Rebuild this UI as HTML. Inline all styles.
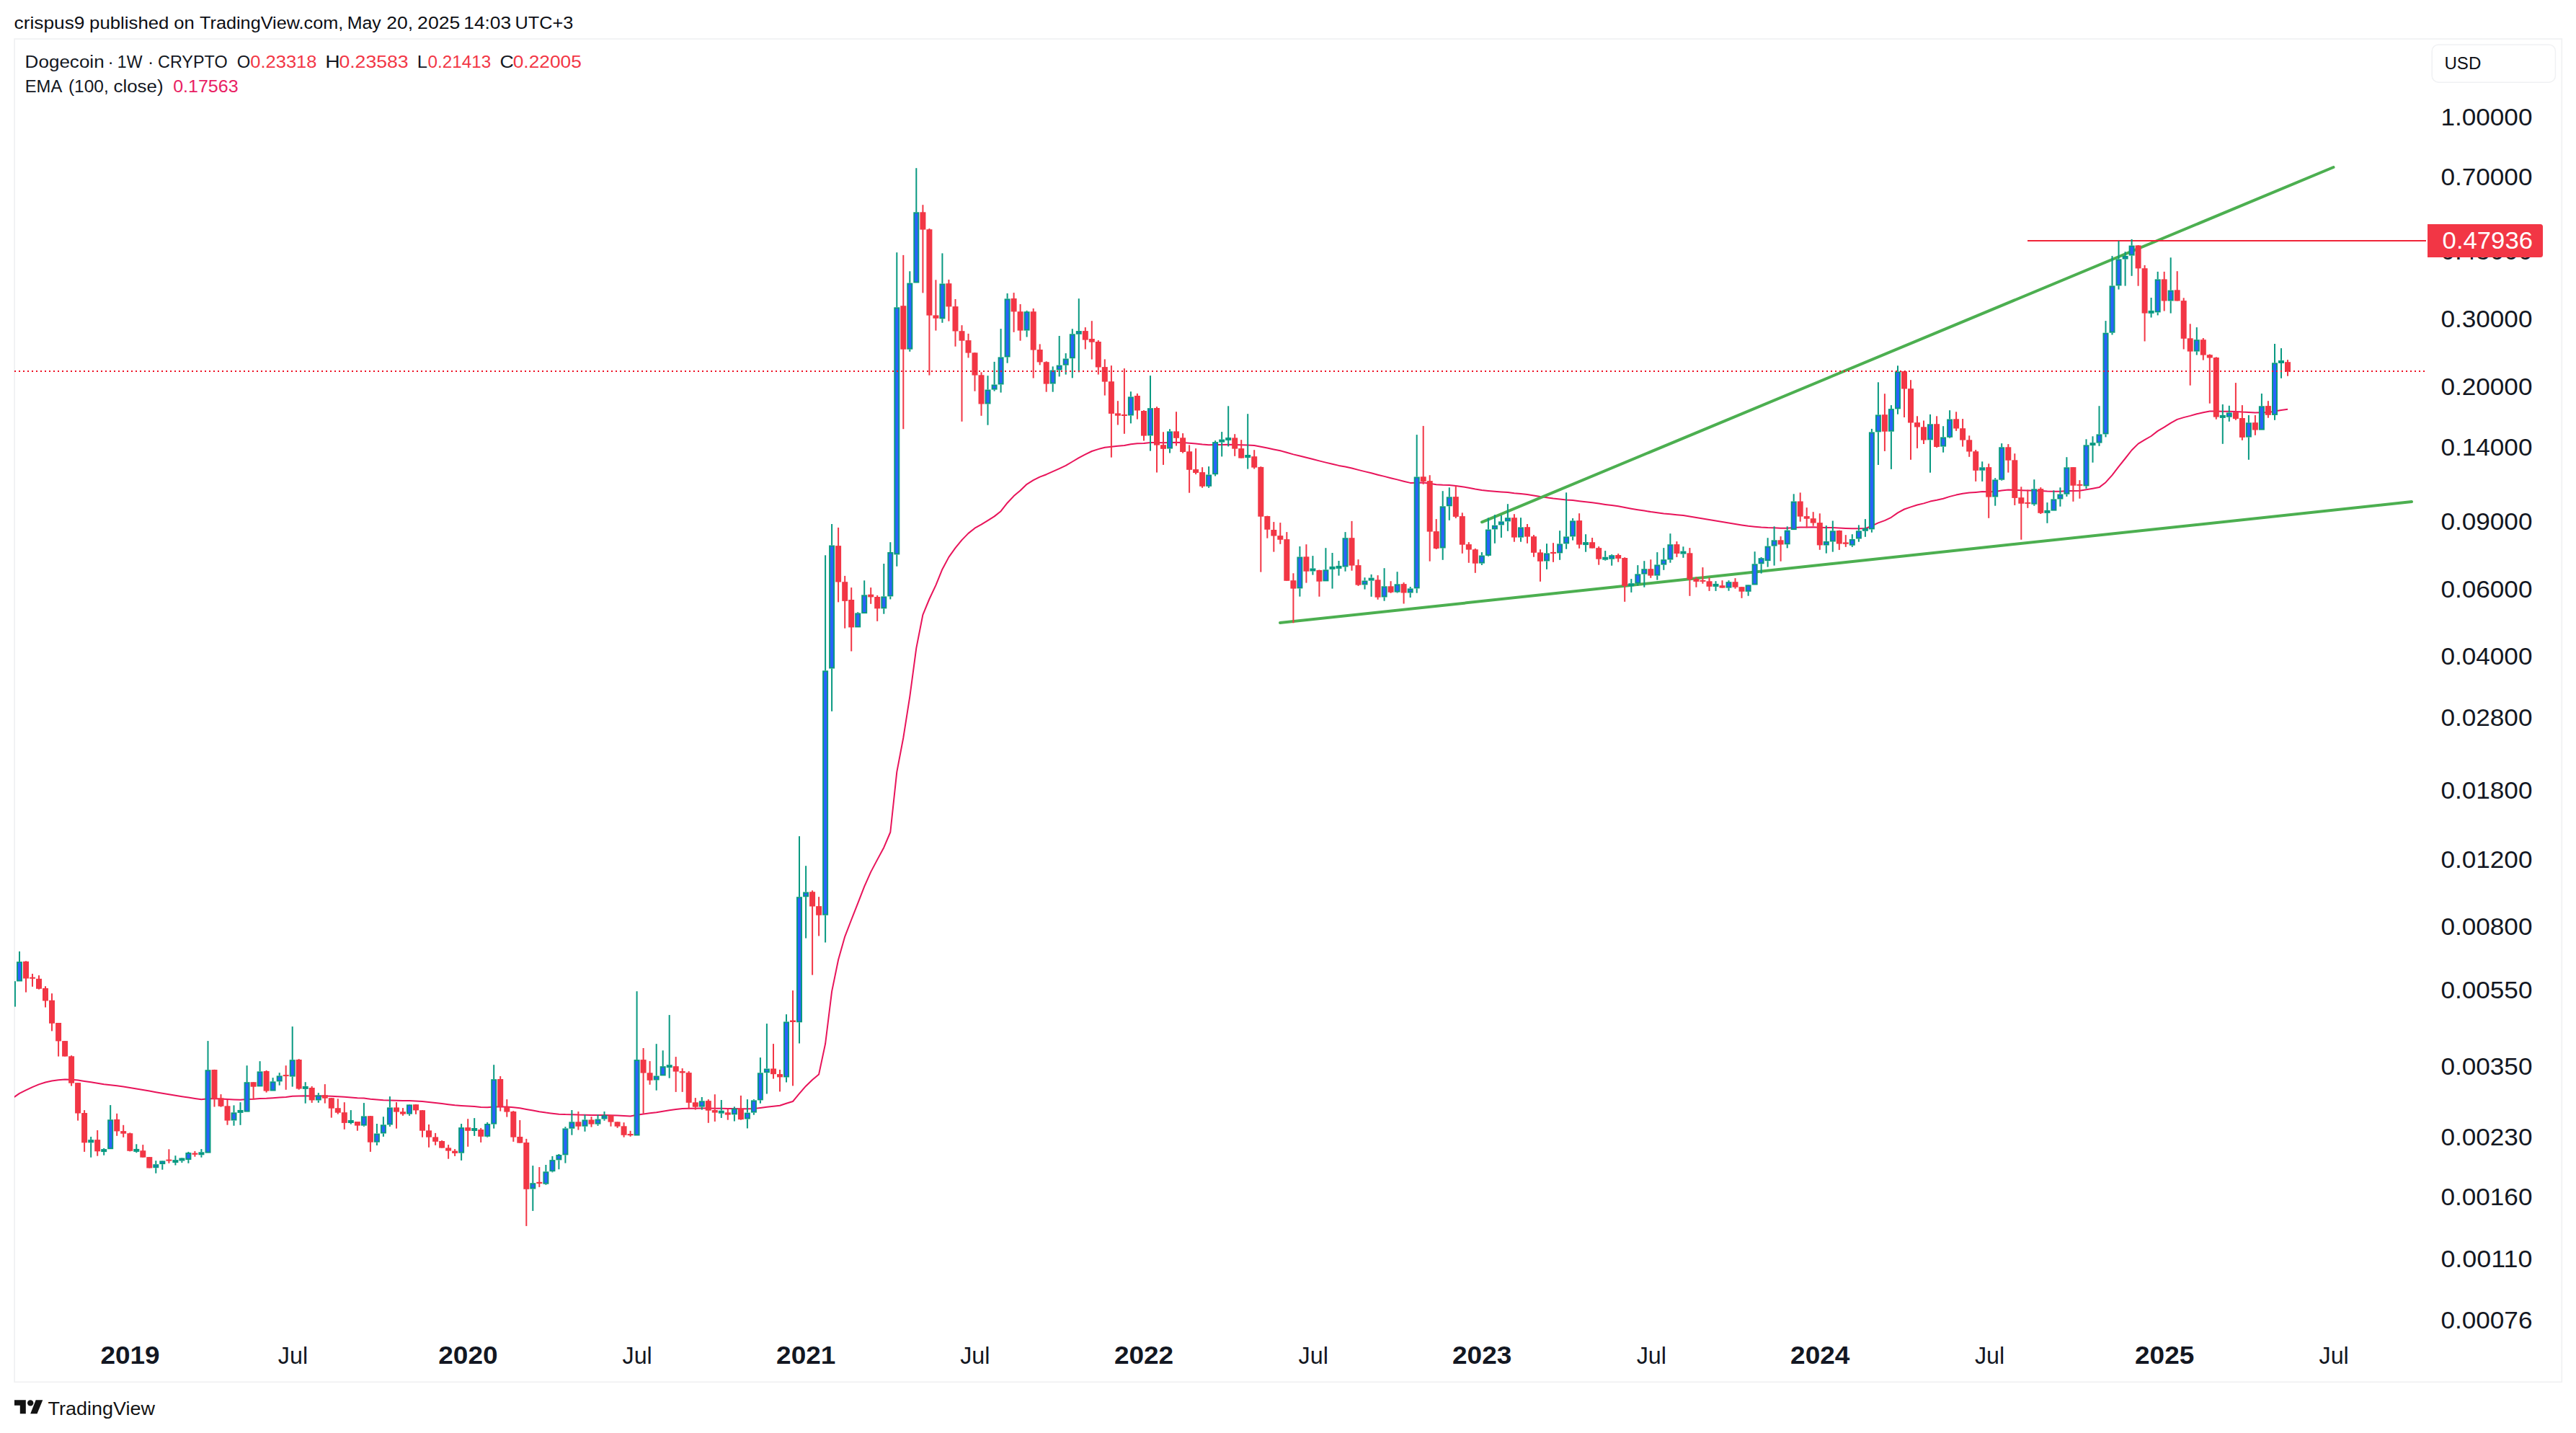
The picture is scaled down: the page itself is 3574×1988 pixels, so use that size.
<!DOCTYPE html>
<html><head><meta charset="utf-8"><title>Dogecoin 1W chart</title>
<style>html,body{margin:0;padding:0;background:#fff;width:3574px;height:1988px;font-family:"Liberation Sans",sans-serif}</style>
</head><body>
<svg width="3574" height="1988" viewBox="0 0 3574 1988" style="position:absolute;left:0;top:0;display:block" font-family="Liberation Sans, sans-serif">
<rect width="3574" height="1988" fill="#fff"/>
<rect x="20.1" y="54" width="3534.2" height="1863.3" fill="none" stroke="#f0f1f2" stroke-width="1.7"/>
<defs><clipPath id="cp"><rect x="20" y="55" width="3340" height="1861"/></clipPath></defs>
<g clip-path="url(#cp)">
<path d="M17.9,1523.3 L27.0,1516.9 L36.0,1512.4 L45.0,1508.1 L54.0,1504.4 L63.0,1501.5 L72.0,1499.5 L81.1,1498.3 L90.1,1497.6 L99.1,1497.7 L108.1,1498.5 L117.1,1499.9 L126.2,1501.3 L135.2,1502.8 L144.2,1504.3 L153.2,1505.2 L162.2,1506.3 L171.2,1507.5 L180.3,1508.9 L189.3,1510.4 L198.3,1511.9 L207.3,1513.6 L216.3,1515.3 L225.3,1516.8 L234.4,1518.3 L243.4,1519.8 L252.4,1521.3 L261.4,1522.6 L270.4,1523.9 L279.4,1525.2 L288.5,1524.3 L297.5,1524.3 L306.5,1524.5 L315.5,1525.0 L324.5,1525.4 L333.5,1525.7 L342.6,1525.1 L351.6,1524.8 L360.6,1523.9 L369.6,1523.7 L378.6,1523.2 L387.7,1522.6 L396.7,1521.9 L405.7,1520.8 L414.7,1520.6 L423.7,1520.3 L432.7,1520.4 L441.8,1520.4 L450.8,1520.4 L459.8,1520.8 L468.8,1521.2 L477.8,1521.8 L486.8,1522.5 L495.9,1523.2 L504.9,1523.6 L513.9,1524.7 L522.9,1525.5 L531.9,1526.2 L540.9,1526.4 L550.0,1526.7 L559.0,1527.0 L568.0,1527.1 L577.0,1527.4 L586.0,1528.1 L595.0,1529.0 L604.1,1529.9 L613.1,1531.0 L622.1,1532.2 L631.1,1533.3 L640.1,1533.9 L649.2,1534.5 L658.2,1535.1 L667.2,1535.9 L676.2,1536.3 L685.2,1535.4 L694.2,1535.4 L703.3,1535.6 L712.3,1536.3 L721.3,1537.2 L730.3,1539.0 L739.3,1540.6 L748.3,1542.2 L757.4,1543.6 L766.4,1544.7 L775.4,1545.7 L784.4,1546.1 L793.4,1546.3 L802.4,1546.6 L811.5,1546.7 L820.5,1547.0 L829.5,1547.1 L838.5,1547.1 L847.5,1547.2 L856.6,1547.5 L865.6,1548.0 L874.6,1548.5 L883.6,1546.7 L892.6,1545.4 L901.6,1544.3 L910.7,1543.2 L919.7,1541.7 L928.7,1540.3 L937.7,1539.1 L946.7,1537.9 L955.7,1537.8 L964.8,1537.7 L973.8,1537.5 L982.8,1537.6 L991.8,1537.7 L1000.8,1537.7 L1009.8,1537.9 L1018.9,1537.9 L1027.9,1538.2 L1036.9,1538.3 L1045.9,1538.0 L1054.9,1536.9 L1063.9,1535.7 L1073.0,1534.7 L1082.0,1533.8 L1091.0,1530.8 L1100.0,1528.0 L1109.0,1517.2 L1118.1,1506.7 L1127.1,1498.0 L1136.1,1490.4 L1145.1,1448.0 L1154.1,1375.4 L1163.1,1331.5 L1172.2,1299.3 L1181.2,1276.0 L1190.2,1253.1 L1199.2,1229.9 L1208.2,1209.6 L1217.2,1192.6 L1226.3,1175.7 L1235.3,1154.5 L1244.3,1070.9 L1253.3,1023.5 L1262.3,966.4 L1271.3,899.1 L1280.4,852.8 L1289.4,831.0 L1298.4,811.9 L1307.4,789.7 L1316.4,772.9 L1325.5,760.1 L1334.5,749.1 L1343.5,739.9 L1352.5,732.7 L1361.5,727.7 L1370.5,722.1 L1379.6,716.4 L1388.6,709.2 L1397.6,697.7 L1406.6,688.1 L1415.6,680.5 L1424.6,671.8 L1433.7,666.2 L1442.7,661.6 L1451.7,658.2 L1460.7,654.2 L1469.7,650.1 L1478.7,645.9 L1487.8,640.5 L1496.8,635.1 L1505.8,630.4 L1514.8,626.0 L1523.8,623.1 L1532.8,620.8 L1541.9,619.7 L1550.9,618.8 L1559.9,617.9 L1568.9,616.3 L1577.9,615.3 L1587.0,615.1 L1596.0,614.0 L1605.0,614.1 L1614.0,614.2 L1623.0,613.9 L1632.0,613.7 L1641.1,614.0 L1650.1,614.7 L1659.1,615.4 L1668.1,616.5 L1677.1,617.2 L1686.1,617.1 L1695.2,617.0 L1704.2,616.8 L1713.2,616.9 L1722.2,617.2 L1731.2,617.5 L1740.2,618.1 L1749.3,619.7 L1758.3,621.5 L1767.3,623.4 L1776.3,625.3 L1785.3,627.8 L1794.4,630.4 L1803.4,632.5 L1812.4,634.8 L1821.4,637.0 L1830.4,639.4 L1839.4,641.6 L1848.5,643.8 L1857.5,645.9 L1866.5,647.5 L1875.5,649.5 L1884.5,651.9 L1893.5,654.1 L1902.6,656.3 L1911.6,658.7 L1920.6,660.9 L1929.6,663.2 L1938.6,665.4 L1947.6,667.7 L1956.7,669.9 L1965.7,669.7 L1974.7,669.6 L1983.7,670.8 L1992.7,672.3 L2001.7,672.8 L2010.8,673.1 L2019.8,673.9 L2028.8,675.3 L2037.8,676.7 L2046.8,678.4 L2055.9,679.9 L2064.9,680.9 L2073.9,681.7 L2082.9,682.5 L2091.9,683.1 L2100.9,684.2 L2110.0,685.0 L2119.0,686.1 L2128.0,687.4 L2137.0,688.9 L2146.0,690.2 L2155.0,691.6 L2164.1,692.6 L2173.1,693.6 L2182.1,694.1 L2191.1,695.2 L2200.1,696.2 L2209.1,697.3 L2218.2,698.6 L2227.2,699.9 L2236.2,701.1 L2245.2,702.3 L2254.2,704.0 L2263.3,705.7 L2272.3,707.2 L2281.3,708.6 L2290.3,710.1 L2299.3,711.3 L2308.3,712.4 L2317.4,713.2 L2326.4,714.2 L2335.4,715.1 L2344.4,716.5 L2353.4,718.0 L2362.4,719.5 L2371.5,721.0 L2380.5,722.5 L2389.5,724.0 L2398.5,725.4 L2407.5,726.9 L2416.5,728.4 L2425.6,729.8 L2434.6,730.7 L2443.6,731.5 L2452.6,732.0 L2461.6,732.3 L2470.6,732.7 L2479.7,732.8 L2488.7,731.9 L2497.7,731.6 L2506.7,731.4 L2515.7,731.2 L2524.8,731.7 L2533.8,732.1 L2542.8,732.1 L2551.8,732.6 L2560.8,733.0 L2569.8,733.3 L2578.9,733.3 L2587.9,733.3 L2596.9,729.7 L2605.9,725.4 L2614.9,722.1 L2623.9,717.8 L2633.0,711.4 L2642.0,706.5 L2651.0,703.4 L2660.0,700.5 L2669.0,698.4 L2678.0,695.6 L2687.1,693.8 L2696.1,691.7 L2705.1,688.9 L2714.1,686.6 L2723.1,684.8 L2732.2,683.5 L2741.2,682.9 L2750.2,682.1 L2759.2,682.3 L2768.2,681.9 L2777.2,680.5 L2786.3,679.6 L2795.3,679.8 L2804.3,680.2 L2813.3,680.5 L2822.3,680.4 L2831.3,681.0 L2840.4,681.5 L2849.4,681.7 L2858.4,681.8 L2867.4,681.1 L2876.4,680.9 L2885.4,680.8 L2894.5,679.3 L2903.5,677.8 L2912.5,676.1 L2921.5,669.2 L2930.5,659.1 L2939.5,647.3 L2948.6,636.0 L2957.6,624.5 L2966.6,615.6 L2975.6,610.2 L2984.6,605.0 L2993.7,597.9 L3002.7,592.6 L3011.7,586.8 L3020.7,581.9 L3029.7,579.1 L3038.7,576.9 L3047.8,574.2 L3056.8,572.3 L3065.8,570.5 L3074.8,570.6 L3083.8,570.8 L3092.8,570.8 L3101.9,571.0 L3110.9,571.6 L3119.9,571.9 L3128.9,572.4 L3137.9,572.2 L3146.9,572.2 L3156.0,570.6 L3165.0,569.0 L3174.0,567.8" fill="none" stroke="#e8145a" stroke-width="2" stroke-linejoin="round"/>
</g>
<line x1="1776" y1="864" x2="3346" y2="696" stroke="#4caf50" stroke-width="4" stroke-linecap="round"/>
<line x1="2056" y1="724.3" x2="3237.5" y2="232" stroke="#4caf50" stroke-width="4" stroke-linecap="round"/>
<line x1="2813" y1="334" x2="3366" y2="334" stroke="#f02438" stroke-width="2"/>
<g clip-path="url(#cp)">
<rect x="16.9" y="1361.2" width="2" height="0.0" fill="#089981"/>
<rect x="16.9" y="1396.6" width="2" height="0.0" fill="#089981"/>
<rect x="13.9" y="1361.2" width="8" height="35.4" fill="#089981"/>
<rect x="15.9" y="1363.2" width="4" height="31.4" fill="#2962ff"/>
<rect x="26.0" y="1319.9" width="2" height="14.2" fill="#089981"/>
<rect x="26.0" y="1361.5" width="2" height="0.0" fill="#089981"/>
<rect x="23.0" y="1334.1" width="8" height="27.4" fill="#089981"/>
<rect x="25.0" y="1336.1" width="4" height="23.4" fill="#2962ff"/>
<rect x="35.0" y="1333.3" width="2" height="43.3" fill="#f23645"/>
<rect x="32.0" y="1333.8" width="8" height="23.7" fill="#f23645"/>
<rect x="44.0" y="1350.9" width="2" height="17.9" fill="#f23645"/>
<rect x="41.0" y="1355.7" width="8" height="2.0" fill="#f23645"/>
<rect x="53.0" y="1353.1" width="2" height="19.5" fill="#f23645"/>
<rect x="50.0" y="1357.8" width="8" height="14.0" fill="#f23645"/>
<rect x="62.0" y="1368.2" width="2" height="29.3" fill="#f23645"/>
<rect x="59.0" y="1370.9" width="8" height="17.6" fill="#f23645"/>
<rect x="71.0" y="1378.2" width="2" height="52.2" fill="#f23645"/>
<rect x="68.0" y="1387.7" width="8" height="32.1" fill="#f23645"/>
<rect x="80.1" y="1419.0" width="2" height="46.6" fill="#f23645"/>
<rect x="77.1" y="1419.0" width="8" height="25.4" fill="#f23645"/>
<rect x="89.1" y="1444.1" width="2" height="21.5" fill="#f23645"/>
<rect x="86.1" y="1444.1" width="8" height="21.5" fill="#f23645"/>
<rect x="98.1" y="1464.2" width="2" height="42.4" fill="#f23645"/>
<rect x="95.1" y="1465.3" width="8" height="37.4" fill="#f23645"/>
<rect x="107.1" y="1502.1" width="2" height="52.5" fill="#f23645"/>
<rect x="104.1" y="1502.1" width="8" height="42.4" fill="#f23645"/>
<rect x="116.1" y="1540.1" width="2" height="57.8" fill="#f23645"/>
<rect x="113.1" y="1544.0" width="8" height="41.3" fill="#f23645"/>
<rect x="125.2" y="1577.0" width="2" height="4.2" fill="#089981"/>
<rect x="125.2" y="1585.3" width="2" height="20.4" fill="#089981"/>
<rect x="122.2" y="1581.1" width="8" height="4.2" fill="#089981"/>
<rect x="124.2" y="1583.1" width="4" height="0.2" fill="#2962ff"/>
<rect x="134.2" y="1568.0" width="2" height="35.7" fill="#f23645"/>
<rect x="131.2" y="1581.1" width="8" height="16.2" fill="#f23645"/>
<rect x="143.2" y="1592.9" width="2" height="1.2" fill="#089981"/>
<rect x="143.2" y="1598.1" width="2" height="4.6" fill="#089981"/>
<rect x="140.2" y="1594.1" width="8" height="4.0" fill="#089981"/>
<rect x="152.2" y="1533.1" width="2" height="20.1" fill="#089981"/>
<rect x="152.2" y="1594.3" width="2" height="0.0" fill="#089981"/>
<rect x="149.2" y="1553.2" width="8" height="41.0" fill="#089981"/>
<rect x="151.2" y="1555.2" width="4" height="37.0" fill="#2962ff"/>
<rect x="161.2" y="1544.8" width="2" height="31.0" fill="#f23645"/>
<rect x="158.2" y="1552.9" width="8" height="16.5" fill="#f23645"/>
<rect x="170.2" y="1560.8" width="2" height="17.0" fill="#f23645"/>
<rect x="167.2" y="1569.1" width="8" height="3.6" fill="#f23645"/>
<rect x="179.3" y="1571.4" width="2" height="26.0" fill="#f23645"/>
<rect x="176.3" y="1572.2" width="8" height="24.6" fill="#f23645"/>
<rect x="188.3" y="1587.3" width="2" height="6.7" fill="#089981"/>
<rect x="188.3" y="1597.9" width="2" height="1.3" fill="#089981"/>
<rect x="185.3" y="1593.9" width="8" height="4.0" fill="#089981"/>
<rect x="197.3" y="1588.1" width="2" height="17.6" fill="#f23645"/>
<rect x="194.3" y="1596.2" width="8" height="9.5" fill="#f23645"/>
<rect x="206.3" y="1605.1" width="2" height="15.4" fill="#f23645"/>
<rect x="203.3" y="1605.1" width="8" height="15.4" fill="#f23645"/>
<rect x="215.3" y="1610.2" width="2" height="5.0" fill="#089981"/>
<rect x="215.3" y="1620.2" width="2" height="7.5" fill="#089981"/>
<rect x="212.3" y="1615.2" width="8" height="5.0" fill="#089981"/>
<rect x="214.3" y="1617.2" width="4" height="1.0" fill="#2962ff"/>
<rect x="224.3" y="1610.2" width="2" height="0.3" fill="#089981"/>
<rect x="224.3" y="1615.2" width="2" height="7.5" fill="#089981"/>
<rect x="221.3" y="1610.4" width="8" height="4.7" fill="#089981"/>
<rect x="223.3" y="1612.4" width="4" height="0.7" fill="#2962ff"/>
<rect x="233.4" y="1594.3" width="2" height="19.5" fill="#f23645"/>
<rect x="230.4" y="1608.6" width="8" height="2.0" fill="#f23645"/>
<rect x="242.4" y="1603.2" width="2" height="6.0" fill="#089981"/>
<rect x="242.4" y="1613.1" width="2" height="3.4" fill="#089981"/>
<rect x="239.4" y="1609.1" width="8" height="4.0" fill="#089981"/>
<rect x="251.4" y="1606.0" width="2" height="0.5" fill="#089981"/>
<rect x="251.4" y="1610.5" width="2" height="2.5" fill="#089981"/>
<rect x="248.4" y="1606.5" width="8" height="4.0" fill="#089981"/>
<rect x="260.4" y="1597.9" width="2" height="1.1" fill="#089981"/>
<rect x="260.4" y="1609.1" width="2" height="4.7" fill="#089981"/>
<rect x="257.4" y="1599.0" width="8" height="10.0" fill="#089981"/>
<rect x="259.4" y="1601.0" width="4" height="6.0" fill="#2962ff"/>
<rect x="269.4" y="1596.9" width="2" height="7.8" fill="#f23645"/>
<rect x="266.4" y="1599.6" width="8" height="2.2" fill="#f23645"/>
<rect x="278.4" y="1594.1" width="2" height="4.2" fill="#089981"/>
<rect x="278.4" y="1602.3" width="2" height="3.4" fill="#089981"/>
<rect x="275.4" y="1598.3" width="8" height="4.0" fill="#089981"/>
<rect x="287.5" y="1444.1" width="2" height="40.1" fill="#089981"/>
<rect x="287.5" y="1599.6" width="2" height="0.0" fill="#089981"/>
<rect x="284.5" y="1484.2" width="8" height="115.4" fill="#089981"/>
<rect x="286.5" y="1486.2" width="4" height="111.4" fill="#2962ff"/>
<rect x="296.5" y="1483.8" width="2" height="51.7" fill="#f23645"/>
<rect x="293.5" y="1484.0" width="8" height="40.3" fill="#f23645"/>
<rect x="305.5" y="1518.1" width="2" height="17.6" fill="#f23645"/>
<rect x="302.5" y="1523.4" width="8" height="11.4" fill="#f23645"/>
<rect x="314.5" y="1525.7" width="2" height="35.0" fill="#f23645"/>
<rect x="311.5" y="1534.3" width="8" height="20.3" fill="#f23645"/>
<rect x="323.5" y="1533.4" width="2" height="10.0" fill="#089981"/>
<rect x="323.5" y="1554.6" width="2" height="7.1" fill="#089981"/>
<rect x="320.5" y="1543.3" width="8" height="11.2" fill="#089981"/>
<rect x="322.5" y="1545.3" width="4" height="7.2" fill="#2962ff"/>
<rect x="332.5" y="1529.2" width="2" height="10.7" fill="#089981"/>
<rect x="332.5" y="1543.9" width="2" height="16.9" fill="#089981"/>
<rect x="329.5" y="1539.9" width="8" height="4.0" fill="#089981"/>
<rect x="341.6" y="1478.2" width="2" height="23.0" fill="#089981"/>
<rect x="341.6" y="1542.6" width="2" height="0.0" fill="#089981"/>
<rect x="338.6" y="1501.2" width="8" height="41.4" fill="#089981"/>
<rect x="340.6" y="1503.2" width="4" height="37.4" fill="#2962ff"/>
<rect x="350.6" y="1501.2" width="2" height="24.3" fill="#f23645"/>
<rect x="347.6" y="1501.2" width="8" height="6.5" fill="#f23645"/>
<rect x="359.6" y="1472.2" width="2" height="14.2" fill="#089981"/>
<rect x="359.6" y="1507.4" width="2" height="0.0" fill="#089981"/>
<rect x="356.6" y="1486.4" width="8" height="21.0" fill="#089981"/>
<rect x="358.6" y="1488.4" width="4" height="17.0" fill="#2962ff"/>
<rect x="368.6" y="1484.9" width="2" height="30.7" fill="#f23645"/>
<rect x="365.6" y="1486.0" width="8" height="27.6" fill="#f23645"/>
<rect x="377.6" y="1495.1" width="2" height="5.3" fill="#089981"/>
<rect x="377.6" y="1513.6" width="2" height="0.0" fill="#089981"/>
<rect x="374.6" y="1500.3" width="8" height="13.2" fill="#089981"/>
<rect x="376.6" y="1502.3" width="4" height="9.2" fill="#2962ff"/>
<rect x="386.7" y="1488.2" width="2" height="4.2" fill="#089981"/>
<rect x="386.7" y="1500.3" width="2" height="5.4" fill="#089981"/>
<rect x="383.7" y="1492.4" width="8" height="8.0" fill="#089981"/>
<rect x="385.7" y="1494.4" width="4" height="4.0" fill="#2962ff"/>
<rect x="395.7" y="1478.2" width="2" height="33.6" fill="#f23645"/>
<rect x="392.7" y="1491.1" width="8" height="2.0" fill="#f23645"/>
<rect x="404.7" y="1424.1" width="2" height="46.1" fill="#089981"/>
<rect x="404.7" y="1493.6" width="2" height="14.0" fill="#089981"/>
<rect x="401.7" y="1470.2" width="8" height="23.4" fill="#089981"/>
<rect x="403.7" y="1472.2" width="4" height="19.4" fill="#2962ff"/>
<rect x="413.7" y="1469.1" width="2" height="42.6" fill="#f23645"/>
<rect x="410.7" y="1470.0" width="8" height="40.5" fill="#f23645"/>
<rect x="422.7" y="1501.2" width="2" height="5.6" fill="#089981"/>
<rect x="422.7" y="1510.9" width="2" height="19.8" fill="#089981"/>
<rect x="419.7" y="1506.9" width="8" height="4.0" fill="#089981"/>
<rect x="431.7" y="1507.0" width="2" height="22.9" fill="#f23645"/>
<rect x="428.7" y="1509.0" width="8" height="17.4" fill="#f23645"/>
<rect x="440.8" y="1516.1" width="2" height="3.3" fill="#089981"/>
<rect x="440.8" y="1526.5" width="2" height="3.3" fill="#089981"/>
<rect x="437.8" y="1519.4" width="8" height="7.1" fill="#089981"/>
<rect x="439.8" y="1521.4" width="4" height="3.1" fill="#2962ff"/>
<rect x="449.8" y="1504.1" width="2" height="26.5" fill="#f23645"/>
<rect x="446.8" y="1519.2" width="8" height="4.5" fill="#f23645"/>
<rect x="458.8" y="1523.0" width="2" height="27.6" fill="#f23645"/>
<rect x="455.8" y="1523.2" width="8" height="14.5" fill="#f23645"/>
<rect x="467.8" y="1524.3" width="2" height="21.4" fill="#f23645"/>
<rect x="464.8" y="1537.2" width="8" height="6.5" fill="#f23645"/>
<rect x="476.8" y="1529.2" width="2" height="37.6" fill="#f23645"/>
<rect x="473.8" y="1543.2" width="8" height="14.7" fill="#f23645"/>
<rect x="485.8" y="1540.1" width="2" height="14.0" fill="#089981"/>
<rect x="485.8" y="1558.0" width="2" height="1.6" fill="#089981"/>
<rect x="482.8" y="1554.0" width="8" height="4.0" fill="#089981"/>
<rect x="494.9" y="1556.0" width="2" height="12.7" fill="#f23645"/>
<rect x="491.9" y="1556.0" width="8" height="5.6" fill="#f23645"/>
<rect x="503.9" y="1530.1" width="2" height="18.3" fill="#089981"/>
<rect x="503.9" y="1561.7" width="2" height="1.1" fill="#089981"/>
<rect x="500.9" y="1548.4" width="8" height="13.2" fill="#089981"/>
<rect x="502.9" y="1550.4" width="4" height="9.2" fill="#2962ff"/>
<rect x="512.9" y="1548.0" width="2" height="49.9" fill="#f23645"/>
<rect x="509.9" y="1548.2" width="8" height="36.5" fill="#f23645"/>
<rect x="521.9" y="1559.0" width="2" height="13.4" fill="#089981"/>
<rect x="521.9" y="1584.6" width="2" height="4.4" fill="#089981"/>
<rect x="518.9" y="1572.5" width="8" height="12.2" fill="#089981"/>
<rect x="520.9" y="1574.5" width="4" height="8.2" fill="#2962ff"/>
<rect x="530.9" y="1549.2" width="2" height="11.1" fill="#089981"/>
<rect x="530.9" y="1572.5" width="2" height="4.4" fill="#089981"/>
<rect x="527.9" y="1560.3" width="8" height="12.2" fill="#089981"/>
<rect x="529.9" y="1562.3" width="4" height="8.2" fill="#2962ff"/>
<rect x="539.9" y="1521.1" width="2" height="15.2" fill="#089981"/>
<rect x="539.9" y="1560.5" width="2" height="2.4" fill="#089981"/>
<rect x="536.9" y="1536.4" width="8" height="24.1" fill="#089981"/>
<rect x="538.9" y="1538.4" width="4" height="20.1" fill="#2962ff"/>
<rect x="549.0" y="1529.1" width="2" height="36.5" fill="#f23645"/>
<rect x="546.0" y="1536.4" width="8" height="6.2" fill="#f23645"/>
<rect x="558.0" y="1537.1" width="2" height="10.7" fill="#f23645"/>
<rect x="555.0" y="1542.2" width="8" height="3.4" fill="#f23645"/>
<rect x="567.0" y="1532.0" width="2" height="0.4" fill="#089981"/>
<rect x="567.0" y="1545.6" width="2" height="2.2" fill="#089981"/>
<rect x="564.0" y="1532.4" width="8" height="13.2" fill="#089981"/>
<rect x="566.0" y="1534.4" width="4" height="9.2" fill="#2962ff"/>
<rect x="576.0" y="1532.0" width="2" height="13.8" fill="#f23645"/>
<rect x="573.0" y="1532.2" width="8" height="8.2" fill="#f23645"/>
<rect x="585.0" y="1540.0" width="2" height="37.7" fill="#f23645"/>
<rect x="582.0" y="1540.2" width="8" height="28.5" fill="#f23645"/>
<rect x="594.0" y="1560.0" width="2" height="31.8" fill="#f23645"/>
<rect x="591.0" y="1568.3" width="8" height="9.4" fill="#f23645"/>
<rect x="603.1" y="1571.9" width="2" height="16.9" fill="#f23645"/>
<rect x="600.1" y="1577.4" width="8" height="6.4" fill="#f23645"/>
<rect x="612.1" y="1582.1" width="2" height="10.5" fill="#f23645"/>
<rect x="609.1" y="1583.0" width="8" height="9.6" fill="#f23645"/>
<rect x="621.1" y="1588.1" width="2" height="19.6" fill="#f23645"/>
<rect x="618.1" y="1592.4" width="8" height="4.2" fill="#f23645"/>
<rect x="630.1" y="1594.1" width="2" height="9.8" fill="#f23645"/>
<rect x="627.1" y="1596.6" width="8" height="3.3" fill="#f23645"/>
<rect x="639.1" y="1559.0" width="2" height="5.1" fill="#089981"/>
<rect x="639.1" y="1599.7" width="2" height="10.2" fill="#089981"/>
<rect x="636.1" y="1564.1" width="8" height="35.6" fill="#089981"/>
<rect x="638.1" y="1566.1" width="4" height="31.6" fill="#2962ff"/>
<rect x="648.2" y="1552.2" width="2" height="38.6" fill="#f23645"/>
<rect x="645.2" y="1564.1" width="8" height="4.7" fill="#f23645"/>
<rect x="657.2" y="1551.1" width="2" height="14.0" fill="#089981"/>
<rect x="657.2" y="1569.0" width="2" height="6.9" fill="#089981"/>
<rect x="654.2" y="1565.0" width="8" height="4.0" fill="#089981"/>
<rect x="666.2" y="1564.9" width="2" height="20.0" fill="#f23645"/>
<rect x="663.2" y="1567.0" width="8" height="9.8" fill="#f23645"/>
<rect x="675.2" y="1557.0" width="2" height="2.0" fill="#089981"/>
<rect x="675.2" y="1576.8" width="2" height="0.9" fill="#089981"/>
<rect x="672.2" y="1559.0" width="8" height="17.8" fill="#089981"/>
<rect x="674.2" y="1561.0" width="4" height="13.8" fill="#2962ff"/>
<rect x="684.2" y="1477.2" width="2" height="20.0" fill="#089981"/>
<rect x="684.2" y="1559.6" width="2" height="6.0" fill="#089981"/>
<rect x="681.2" y="1497.2" width="8" height="62.4" fill="#089981"/>
<rect x="683.2" y="1499.2" width="4" height="58.4" fill="#2962ff"/>
<rect x="693.2" y="1493.0" width="2" height="48.6" fill="#f23645"/>
<rect x="690.2" y="1497.0" width="8" height="38.3" fill="#f23645"/>
<rect x="702.3" y="1525.1" width="2" height="24.5" fill="#f23645"/>
<rect x="699.3" y="1535.3" width="8" height="7.3" fill="#f23645"/>
<rect x="711.3" y="1541.1" width="2" height="42.8" fill="#f23645"/>
<rect x="708.3" y="1542.0" width="8" height="35.7" fill="#f23645"/>
<rect x="720.3" y="1554.0" width="2" height="31.8" fill="#f23645"/>
<rect x="717.3" y="1577.0" width="8" height="8.7" fill="#f23645"/>
<rect x="729.3" y="1579.9" width="2" height="121.0" fill="#f23645"/>
<rect x="726.3" y="1585.0" width="8" height="64.8" fill="#f23645"/>
<rect x="738.3" y="1617.1" width="2" height="24.1" fill="#089981"/>
<rect x="738.3" y="1649.6" width="2" height="30.3" fill="#089981"/>
<rect x="735.3" y="1641.2" width="8" height="8.3" fill="#089981"/>
<rect x="737.3" y="1643.2" width="4" height="4.3" fill="#2962ff"/>
<rect x="747.3" y="1619.1" width="2" height="27.8" fill="#f23645"/>
<rect x="744.3" y="1639.8" width="8" height="2.2" fill="#f23645"/>
<rect x="756.4" y="1616.0" width="2" height="9.3" fill="#089981"/>
<rect x="756.4" y="1642.7" width="2" height="1.1" fill="#089981"/>
<rect x="753.4" y="1625.3" width="8" height="17.4" fill="#089981"/>
<rect x="755.4" y="1627.3" width="4" height="13.4" fill="#2962ff"/>
<rect x="765.4" y="1604.0" width="2" height="5.1" fill="#089981"/>
<rect x="765.4" y="1625.3" width="2" height="1.1" fill="#089981"/>
<rect x="762.4" y="1609.1" width="8" height="16.1" fill="#089981"/>
<rect x="764.4" y="1611.1" width="4" height="12.1" fill="#2962ff"/>
<rect x="774.4" y="1601.0" width="2" height="1.1" fill="#089981"/>
<rect x="774.4" y="1609.5" width="2" height="12.7" fill="#089981"/>
<rect x="771.4" y="1602.0" width="8" height="7.4" fill="#089981"/>
<rect x="773.4" y="1604.0" width="4" height="3.4" fill="#2962ff"/>
<rect x="783.4" y="1563.2" width="2" height="2.2" fill="#089981"/>
<rect x="783.4" y="1602.4" width="2" height="11.2" fill="#089981"/>
<rect x="780.4" y="1565.4" width="8" height="37.0" fill="#089981"/>
<rect x="782.4" y="1567.4" width="4" height="33.0" fill="#2962ff"/>
<rect x="792.4" y="1540.0" width="2" height="16.3" fill="#089981"/>
<rect x="792.4" y="1565.8" width="2" height="8.9" fill="#089981"/>
<rect x="789.4" y="1556.3" width="8" height="9.4" fill="#089981"/>
<rect x="791.4" y="1558.3" width="4" height="5.4" fill="#2962ff"/>
<rect x="801.4" y="1542.0" width="2" height="25.6" fill="#f23645"/>
<rect x="798.4" y="1556.3" width="8" height="6.4" fill="#f23645"/>
<rect x="810.5" y="1546.3" width="2" height="7.1" fill="#089981"/>
<rect x="810.5" y="1562.7" width="2" height="7.1" fill="#089981"/>
<rect x="807.5" y="1553.4" width="8" height="9.3" fill="#089981"/>
<rect x="809.5" y="1555.4" width="4" height="5.3" fill="#2962ff"/>
<rect x="819.5" y="1549.1" width="2" height="14.5" fill="#f23645"/>
<rect x="816.5" y="1553.4" width="8" height="6.2" fill="#f23645"/>
<rect x="828.5" y="1546.3" width="2" height="6.2" fill="#089981"/>
<rect x="828.5" y="1559.6" width="2" height="2.2" fill="#089981"/>
<rect x="825.5" y="1552.5" width="8" height="7.1" fill="#089981"/>
<rect x="827.5" y="1554.5" width="4" height="3.1" fill="#2962ff"/>
<rect x="837.5" y="1542.0" width="2" height="5.3" fill="#089981"/>
<rect x="837.5" y="1552.5" width="2" height="2.2" fill="#089981"/>
<rect x="834.5" y="1547.2" width="8" height="5.3" fill="#089981"/>
<rect x="836.5" y="1549.2" width="4" height="1.3" fill="#2962ff"/>
<rect x="846.5" y="1546.9" width="2" height="15.8" fill="#f23645"/>
<rect x="843.5" y="1547.2" width="8" height="9.4" fill="#f23645"/>
<rect x="855.6" y="1556.3" width="2" height="8.5" fill="#f23645"/>
<rect x="852.6" y="1556.3" width="8" height="6.4" fill="#f23645"/>
<rect x="864.6" y="1557.2" width="2" height="20.5" fill="#f23645"/>
<rect x="861.6" y="1562.3" width="8" height="12.5" fill="#f23645"/>
<rect x="873.6" y="1568.8" width="2" height="8.0" fill="#f23645"/>
<rect x="870.6" y="1573.0" width="8" height="2.2" fill="#f23645"/>
<rect x="882.6" y="1375.2" width="2" height="94.9" fill="#089981"/>
<rect x="882.6" y="1575.5" width="2" height="0.0" fill="#089981"/>
<rect x="879.6" y="1470.1" width="8" height="105.4" fill="#089981"/>
<rect x="881.6" y="1472.1" width="4" height="101.4" fill="#2962ff"/>
<rect x="891.6" y="1454.0" width="2" height="90.7" fill="#f23645"/>
<rect x="888.6" y="1470.1" width="8" height="18.5" fill="#f23645"/>
<rect x="900.6" y="1472.1" width="2" height="32.7" fill="#f23645"/>
<rect x="897.6" y="1488.3" width="8" height="10.5" fill="#f23645"/>
<rect x="909.7" y="1448.2" width="2" height="44.3" fill="#089981"/>
<rect x="909.7" y="1498.4" width="2" height="14.3" fill="#089981"/>
<rect x="906.7" y="1492.5" width="8" height="6.0" fill="#089981"/>
<rect x="908.7" y="1494.5" width="4" height="2.0" fill="#2962ff"/>
<rect x="918.7" y="1457.3" width="2" height="22.0" fill="#089981"/>
<rect x="918.7" y="1492.5" width="2" height="0.0" fill="#089981"/>
<rect x="915.7" y="1479.2" width="8" height="13.2" fill="#089981"/>
<rect x="917.7" y="1481.2" width="4" height="9.2" fill="#2962ff"/>
<rect x="927.7" y="1408.1" width="2" height="69.1" fill="#089981"/>
<rect x="927.7" y="1481.2" width="2" height="14.5" fill="#089981"/>
<rect x="924.7" y="1477.2" width="8" height="4.0" fill="#089981"/>
<rect x="936.7" y="1466.1" width="2" height="48.8" fill="#f23645"/>
<rect x="933.7" y="1479.2" width="8" height="7.4" fill="#f23645"/>
<rect x="945.7" y="1482.1" width="2" height="32.8" fill="#f23645"/>
<rect x="942.7" y="1486.1" width="8" height="2.4" fill="#f23645"/>
<rect x="954.7" y="1486.1" width="2" height="52.3" fill="#f23645"/>
<rect x="951.7" y="1488.1" width="8" height="41.7" fill="#f23645"/>
<rect x="963.8" y="1523.1" width="2" height="16.5" fill="#f23645"/>
<rect x="960.8" y="1529.3" width="8" height="6.4" fill="#f23645"/>
<rect x="972.8" y="1522.0" width="2" height="5.3" fill="#089981"/>
<rect x="972.8" y="1535.6" width="2" height="4.0" fill="#089981"/>
<rect x="969.8" y="1527.3" width="8" height="8.3" fill="#089981"/>
<rect x="971.8" y="1529.3" width="4" height="4.3" fill="#2962ff"/>
<rect x="981.8" y="1525.1" width="2" height="32.7" fill="#f23645"/>
<rect x="978.8" y="1527.1" width="8" height="13.6" fill="#f23645"/>
<rect x="990.8" y="1518.2" width="2" height="37.7" fill="#f23645"/>
<rect x="987.8" y="1540.0" width="8" height="3.6" fill="#f23645"/>
<rect x="999.8" y="1526.0" width="2" height="14.7" fill="#089981"/>
<rect x="999.8" y="1544.7" width="2" height="6.2" fill="#089981"/>
<rect x="996.8" y="1540.7" width="8" height="4.0" fill="#089981"/>
<rect x="1008.8" y="1538.5" width="2" height="15.2" fill="#f23645"/>
<rect x="1005.8" y="1543.3" width="8" height="3.3" fill="#f23645"/>
<rect x="1017.9" y="1535.3" width="2" height="2.5" fill="#089981"/>
<rect x="1017.9" y="1546.3" width="2" height="9.2" fill="#089981"/>
<rect x="1014.9" y="1537.7" width="8" height="8.6" fill="#089981"/>
<rect x="1016.9" y="1539.7" width="4" height="4.6" fill="#2962ff"/>
<rect x="1026.9" y="1519.9" width="2" height="33.8" fill="#f23645"/>
<rect x="1023.9" y="1537.7" width="8" height="15.4" fill="#f23645"/>
<rect x="1035.9" y="1525.1" width="2" height="18.4" fill="#089981"/>
<rect x="1035.9" y="1552.5" width="2" height="12.9" fill="#089981"/>
<rect x="1032.9" y="1543.6" width="8" height="8.9" fill="#089981"/>
<rect x="1034.9" y="1545.6" width="4" height="4.9" fill="#2962ff"/>
<rect x="1044.9" y="1525.1" width="2" height="1.2" fill="#089981"/>
<rect x="1044.9" y="1543.6" width="2" height="3.1" fill="#089981"/>
<rect x="1041.9" y="1526.4" width="8" height="17.2" fill="#089981"/>
<rect x="1043.9" y="1528.4" width="4" height="13.2" fill="#2962ff"/>
<rect x="1053.9" y="1467.1" width="2" height="21.2" fill="#089981"/>
<rect x="1053.9" y="1526.4" width="2" height="4.3" fill="#089981"/>
<rect x="1050.9" y="1488.3" width="8" height="38.1" fill="#089981"/>
<rect x="1052.9" y="1490.3" width="4" height="34.1" fill="#2962ff"/>
<rect x="1062.9" y="1420.1" width="2" height="62.3" fill="#089981"/>
<rect x="1062.9" y="1488.3" width="2" height="29.2" fill="#089981"/>
<rect x="1059.9" y="1482.5" width="8" height="5.8" fill="#089981"/>
<rect x="1061.9" y="1484.5" width="4" height="1.8" fill="#2962ff"/>
<rect x="1072.0" y="1448.1" width="2" height="48.5" fill="#f23645"/>
<rect x="1069.0" y="1482.5" width="8" height="7.7" fill="#f23645"/>
<rect x="1081.0" y="1484.0" width="2" height="30.4" fill="#f23645"/>
<rect x="1078.0" y="1490.1" width="8" height="4.3" fill="#f23645"/>
<rect x="1090.0" y="1407.2" width="2" height="10.1" fill="#089981"/>
<rect x="1090.0" y="1494.4" width="2" height="7.1" fill="#089981"/>
<rect x="1087.0" y="1417.4" width="8" height="77.1" fill="#089981"/>
<rect x="1089.0" y="1419.4" width="4" height="73.1" fill="#2962ff"/>
<rect x="1099.0" y="1374.1" width="2" height="132.3" fill="#f23645"/>
<rect x="1096.0" y="1415.5" width="8" height="2.5" fill="#f23645"/>
<rect x="1108.0" y="1160.1" width="2" height="84.1" fill="#089981"/>
<rect x="1108.0" y="1418.3" width="2" height="29.2" fill="#089981"/>
<rect x="1105.0" y="1244.2" width="8" height="174.1" fill="#089981"/>
<rect x="1107.0" y="1246.2" width="4" height="170.1" fill="#2962ff"/>
<rect x="1117.1" y="1201.2" width="2" height="36.2" fill="#089981"/>
<rect x="1117.1" y="1244.2" width="2" height="57.4" fill="#089981"/>
<rect x="1114.1" y="1237.5" width="8" height="6.8" fill="#089981"/>
<rect x="1116.1" y="1239.5" width="4" height="2.8" fill="#2962ff"/>
<rect x="1126.1" y="1235.3" width="2" height="117.3" fill="#f23645"/>
<rect x="1123.1" y="1237.2" width="8" height="20.3" fill="#f23645"/>
<rect x="1135.1" y="1244.2" width="2" height="54.3" fill="#f23645"/>
<rect x="1132.1" y="1257.1" width="8" height="12.6" fill="#f23645"/>
<rect x="1144.1" y="770.3" width="2" height="160.0" fill="#089981"/>
<rect x="1144.1" y="1269.7" width="2" height="37.8" fill="#089981"/>
<rect x="1141.1" y="930.3" width="8" height="339.4" fill="#089981"/>
<rect x="1143.1" y="932.3" width="4" height="335.4" fill="#2962ff"/>
<rect x="1153.1" y="727.0" width="2" height="29.5" fill="#089981"/>
<rect x="1153.1" y="927.5" width="2" height="59.3" fill="#089981"/>
<rect x="1150.1" y="756.5" width="8" height="171.0" fill="#089981"/>
<rect x="1152.1" y="758.5" width="4" height="167.0" fill="#2962ff"/>
<rect x="1162.1" y="731.9" width="2" height="103.5" fill="#f23645"/>
<rect x="1159.1" y="757.1" width="8" height="50.4" fill="#f23645"/>
<rect x="1171.2" y="798.9" width="2" height="72.8" fill="#f23645"/>
<rect x="1168.2" y="807.2" width="8" height="26.7" fill="#f23645"/>
<rect x="1180.2" y="815.1" width="2" height="88.4" fill="#f23645"/>
<rect x="1177.2" y="832.0" width="8" height="38.4" fill="#f23645"/>
<rect x="1189.2" y="849.2" width="2" height="1.2" fill="#089981"/>
<rect x="1189.2" y="870.4" width="2" height="0.0" fill="#089981"/>
<rect x="1186.2" y="850.4" width="8" height="20.0" fill="#089981"/>
<rect x="1188.2" y="852.4" width="4" height="16.0" fill="#2962ff"/>
<rect x="1198.2" y="805.3" width="2" height="20.0" fill="#089981"/>
<rect x="1198.2" y="851.1" width="2" height="0.0" fill="#089981"/>
<rect x="1195.2" y="825.3" width="8" height="25.8" fill="#089981"/>
<rect x="1197.2" y="827.3" width="4" height="21.8" fill="#2962ff"/>
<rect x="1207.2" y="815.1" width="2" height="22.7" fill="#f23645"/>
<rect x="1204.2" y="824.7" width="8" height="3.7" fill="#f23645"/>
<rect x="1216.2" y="825.9" width="2" height="35.9" fill="#f23645"/>
<rect x="1213.2" y="828.0" width="8" height="16.3" fill="#f23645"/>
<rect x="1225.3" y="782.0" width="2" height="45.4" fill="#089981"/>
<rect x="1225.3" y="844.3" width="2" height="7.4" fill="#089981"/>
<rect x="1222.3" y="827.4" width="8" height="16.9" fill="#089981"/>
<rect x="1224.3" y="829.4" width="4" height="12.9" fill="#2962ff"/>
<rect x="1234.3" y="752.2" width="2" height="13.8" fill="#089981"/>
<rect x="1234.3" y="827.4" width="2" height="4.0" fill="#089981"/>
<rect x="1231.3" y="766.0" width="8" height="61.4" fill="#089981"/>
<rect x="1233.3" y="768.0" width="4" height="57.4" fill="#2962ff"/>
<rect x="1243.3" y="350.2" width="2" height="76.1" fill="#089981"/>
<rect x="1243.3" y="769.4" width="2" height="16.3" fill="#089981"/>
<rect x="1240.3" y="426.3" width="8" height="343.1" fill="#089981"/>
<rect x="1242.3" y="428.3" width="4" height="339.1" fill="#2962ff"/>
<rect x="1252.3" y="353.9" width="2" height="241.3" fill="#f23645"/>
<rect x="1249.3" y="424.2" width="8" height="60.5" fill="#f23645"/>
<rect x="1261.3" y="376.3" width="2" height="16.3" fill="#089981"/>
<rect x="1261.3" y="484.7" width="2" height="3.1" fill="#089981"/>
<rect x="1258.3" y="392.6" width="8" height="92.1" fill="#089981"/>
<rect x="1260.3" y="394.6" width="4" height="88.1" fill="#2962ff"/>
<rect x="1270.3" y="233.2" width="2" height="61.1" fill="#089981"/>
<rect x="1270.3" y="392.6" width="2" height="0.0" fill="#089981"/>
<rect x="1267.3" y="294.3" width="8" height="98.2" fill="#089981"/>
<rect x="1269.3" y="296.3" width="4" height="94.2" fill="#2962ff"/>
<rect x="1279.4" y="284.2" width="2" height="122.2" fill="#f23645"/>
<rect x="1276.4" y="294.3" width="8" height="24.3" fill="#f23645"/>
<rect x="1288.4" y="317.0" width="2" height="203.6" fill="#f23645"/>
<rect x="1285.4" y="318.2" width="8" height="119.4" fill="#f23645"/>
<rect x="1297.4" y="388.3" width="2" height="70.3" fill="#f23645"/>
<rect x="1294.4" y="437.4" width="8" height="4.3" fill="#f23645"/>
<rect x="1306.4" y="351.4" width="2" height="42.1" fill="#089981"/>
<rect x="1306.4" y="442.3" width="2" height="5.5" fill="#089981"/>
<rect x="1303.4" y="393.5" width="8" height="48.8" fill="#089981"/>
<rect x="1305.4" y="395.5" width="4" height="44.8" fill="#2962ff"/>
<rect x="1315.4" y="387.9" width="2" height="57.7" fill="#f23645"/>
<rect x="1312.4" y="393.2" width="8" height="32.2" fill="#f23645"/>
<rect x="1324.5" y="415.0" width="2" height="65.7" fill="#f23645"/>
<rect x="1321.5" y="425.1" width="8" height="34.4" fill="#f23645"/>
<rect x="1333.5" y="451.2" width="2" height="133.6" fill="#f23645"/>
<rect x="1330.5" y="459.2" width="8" height="13.5" fill="#f23645"/>
<rect x="1342.5" y="462.9" width="2" height="33.5" fill="#f23645"/>
<rect x="1339.5" y="472.1" width="8" height="17.5" fill="#f23645"/>
<rect x="1351.5" y="489.0" width="2" height="53.7" fill="#f23645"/>
<rect x="1348.5" y="489.3" width="8" height="31.3" fill="#f23645"/>
<rect x="1360.5" y="516.3" width="2" height="60.5" fill="#f23645"/>
<rect x="1357.5" y="520.3" width="8" height="40.2" fill="#f23645"/>
<rect x="1369.5" y="521.2" width="2" height="19.3" fill="#089981"/>
<rect x="1369.5" y="560.5" width="2" height="29.2" fill="#089981"/>
<rect x="1366.5" y="540.5" width="8" height="20.0" fill="#089981"/>
<rect x="1368.5" y="542.5" width="4" height="16.0" fill="#2962ff"/>
<rect x="1378.6" y="501.9" width="2" height="31.6" fill="#089981"/>
<rect x="1378.6" y="540.5" width="2" height="2.1" fill="#089981"/>
<rect x="1375.6" y="533.5" width="8" height="7.1" fill="#089981"/>
<rect x="1377.6" y="535.5" width="4" height="3.1" fill="#2962ff"/>
<rect x="1387.6" y="456.1" width="2" height="39.3" fill="#089981"/>
<rect x="1387.6" y="533.5" width="2" height="11.1" fill="#089981"/>
<rect x="1384.6" y="495.4" width="8" height="38.1" fill="#089981"/>
<rect x="1386.6" y="497.4" width="4" height="34.1" fill="#2962ff"/>
<rect x="1396.6" y="407.0" width="2" height="7.4" fill="#089981"/>
<rect x="1396.6" y="495.4" width="2" height="8.3" fill="#089981"/>
<rect x="1393.6" y="414.4" width="8" height="81.1" fill="#089981"/>
<rect x="1395.6" y="416.4" width="4" height="77.1" fill="#2962ff"/>
<rect x="1405.6" y="406.1" width="2" height="54.7" fill="#f23645"/>
<rect x="1402.6" y="414.0" width="8" height="18.4" fill="#f23645"/>
<rect x="1414.6" y="422.0" width="2" height="50.7" fill="#f23645"/>
<rect x="1411.6" y="432.2" width="8" height="26.4" fill="#f23645"/>
<rect x="1423.6" y="430.9" width="2" height="1.2" fill="#089981"/>
<rect x="1423.6" y="458.6" width="2" height="8.9" fill="#089981"/>
<rect x="1420.6" y="432.2" width="8" height="26.4" fill="#089981"/>
<rect x="1422.6" y="434.2" width="4" height="22.4" fill="#2962ff"/>
<rect x="1432.7" y="427.9" width="2" height="96.7" fill="#f23645"/>
<rect x="1429.7" y="432.2" width="8" height="53.4" fill="#f23645"/>
<rect x="1441.7" y="477.4" width="2" height="29.0" fill="#f23645"/>
<rect x="1438.7" y="485.0" width="8" height="17.4" fill="#f23645"/>
<rect x="1450.7" y="501.3" width="2" height="42.4" fill="#f23645"/>
<rect x="1447.7" y="502.2" width="8" height="30.4" fill="#f23645"/>
<rect x="1459.7" y="508.4" width="2" height="5.1" fill="#089981"/>
<rect x="1459.7" y="532.5" width="2" height="11.2" fill="#089981"/>
<rect x="1456.7" y="513.5" width="8" height="19.0" fill="#089981"/>
<rect x="1458.7" y="515.5" width="4" height="15.0" fill="#2962ff"/>
<rect x="1468.7" y="466.0" width="2" height="40.6" fill="#089981"/>
<rect x="1468.7" y="513.5" width="2" height="8.9" fill="#089981"/>
<rect x="1465.7" y="506.6" width="8" height="6.9" fill="#089981"/>
<rect x="1467.7" y="508.6" width="4" height="2.9" fill="#2962ff"/>
<rect x="1477.7" y="490.1" width="2" height="7.4" fill="#089981"/>
<rect x="1477.7" y="506.6" width="2" height="13.0" fill="#089981"/>
<rect x="1474.7" y="497.5" width="8" height="9.2" fill="#089981"/>
<rect x="1476.7" y="499.5" width="4" height="5.2" fill="#2962ff"/>
<rect x="1486.8" y="456.2" width="2" height="7.1" fill="#089981"/>
<rect x="1486.8" y="497.2" width="2" height="27.2" fill="#089981"/>
<rect x="1483.8" y="463.3" width="8" height="33.9" fill="#089981"/>
<rect x="1485.8" y="465.3" width="4" height="29.9" fill="#2962ff"/>
<rect x="1495.8" y="414.2" width="2" height="44.9" fill="#089981"/>
<rect x="1495.8" y="463.7" width="2" height="52.7" fill="#089981"/>
<rect x="1492.8" y="459.1" width="8" height="4.7" fill="#089981"/>
<rect x="1494.8" y="461.1" width="4" height="0.7" fill="#2962ff"/>
<rect x="1504.8" y="454.1" width="2" height="30.4" fill="#f23645"/>
<rect x="1501.8" y="459.1" width="8" height="12.5" fill="#f23645"/>
<rect x="1513.8" y="445.2" width="2" height="53.4" fill="#f23645"/>
<rect x="1510.8" y="470.0" width="8" height="4.7" fill="#f23645"/>
<rect x="1522.8" y="472.0" width="2" height="47.6" fill="#f23645"/>
<rect x="1519.8" y="474.0" width="8" height="35.5" fill="#f23645"/>
<rect x="1531.8" y="498.4" width="2" height="50.2" fill="#f23645"/>
<rect x="1528.8" y="509.1" width="8" height="20.5" fill="#f23645"/>
<rect x="1540.9" y="507.1" width="2" height="127.5" fill="#f23645"/>
<rect x="1537.9" y="529.2" width="8" height="44.7" fill="#f23645"/>
<rect x="1549.9" y="556.2" width="2" height="33.3" fill="#f23645"/>
<rect x="1546.9" y="573.4" width="8" height="3.3" fill="#f23645"/>
<rect x="1558.9" y="511.1" width="2" height="90.7" fill="#f23645"/>
<rect x="1555.9" y="575.0" width="8" height="2.0" fill="#f23645"/>
<rect x="1567.9" y="543.2" width="2" height="7.1" fill="#089981"/>
<rect x="1567.9" y="576.5" width="2" height="10.9" fill="#089981"/>
<rect x="1564.9" y="550.4" width="8" height="26.1" fill="#089981"/>
<rect x="1566.9" y="552.4" width="4" height="22.1" fill="#2962ff"/>
<rect x="1576.9" y="545.9" width="2" height="35.7" fill="#f23645"/>
<rect x="1573.9" y="549.0" width="8" height="20.5" fill="#f23645"/>
<rect x="1586.0" y="569.1" width="2" height="42.4" fill="#f23645"/>
<rect x="1583.0" y="570.0" width="8" height="34.6" fill="#f23645"/>
<rect x="1595.0" y="521.1" width="2" height="45.1" fill="#089981"/>
<rect x="1595.0" y="604.4" width="2" height="21.2" fill="#089981"/>
<rect x="1592.0" y="566.2" width="8" height="38.2" fill="#089981"/>
<rect x="1594.0" y="568.2" width="4" height="34.2" fill="#2962ff"/>
<rect x="1604.0" y="564.2" width="2" height="91.3" fill="#f23645"/>
<rect x="1601.0" y="566.0" width="8" height="51.6" fill="#f23645"/>
<rect x="1613.0" y="599.3" width="2" height="45.6" fill="#f23645"/>
<rect x="1610.0" y="617.2" width="8" height="5.6" fill="#f23645"/>
<rect x="1622.0" y="595.3" width="2" height="3.1" fill="#089981"/>
<rect x="1622.0" y="622.5" width="2" height="6.0" fill="#089981"/>
<rect x="1619.0" y="598.4" width="8" height="24.1" fill="#089981"/>
<rect x="1621.0" y="600.4" width="4" height="20.1" fill="#2962ff"/>
<rect x="1631.0" y="571.2" width="2" height="47.3" fill="#f23645"/>
<rect x="1628.0" y="598.4" width="8" height="9.4" fill="#f23645"/>
<rect x="1640.1" y="601.1" width="2" height="27.5" fill="#f23645"/>
<rect x="1637.1" y="607.3" width="8" height="19.7" fill="#f23645"/>
<rect x="1649.1" y="617.4" width="2" height="66.3" fill="#f23645"/>
<rect x="1646.1" y="626.3" width="8" height="25.5" fill="#f23645"/>
<rect x="1658.1" y="622.1" width="2" height="36.0" fill="#f23645"/>
<rect x="1655.1" y="651.1" width="8" height="4.9" fill="#f23645"/>
<rect x="1667.1" y="648.2" width="2" height="28.6" fill="#f23645"/>
<rect x="1664.1" y="655.1" width="8" height="19.7" fill="#f23645"/>
<rect x="1676.1" y="647.1" width="2" height="11.4" fill="#089981"/>
<rect x="1676.1" y="674.8" width="2" height="2.0" fill="#089981"/>
<rect x="1673.1" y="658.5" width="8" height="16.3" fill="#089981"/>
<rect x="1675.1" y="660.5" width="4" height="12.3" fill="#2962ff"/>
<rect x="1685.1" y="611.2" width="2" height="1.9" fill="#089981"/>
<rect x="1685.1" y="658.1" width="2" height="2.4" fill="#089981"/>
<rect x="1682.1" y="613.1" width="8" height="45.1" fill="#089981"/>
<rect x="1684.1" y="615.1" width="4" height="41.1" fill="#2962ff"/>
<rect x="1694.2" y="599.1" width="2" height="10.6" fill="#089981"/>
<rect x="1694.2" y="613.6" width="2" height="19.8" fill="#089981"/>
<rect x="1691.2" y="609.6" width="8" height="4.0" fill="#089981"/>
<rect x="1703.2" y="563.3" width="2" height="43.8" fill="#089981"/>
<rect x="1703.2" y="611.0" width="2" height="8.4" fill="#089981"/>
<rect x="1700.2" y="607.0" width="8" height="4.0" fill="#089981"/>
<rect x="1712.2" y="602.2" width="2" height="30.6" fill="#f23645"/>
<rect x="1709.2" y="607.4" width="8" height="15.2" fill="#f23645"/>
<rect x="1721.2" y="610.2" width="2" height="25.4" fill="#f23645"/>
<rect x="1718.2" y="622.1" width="8" height="13.5" fill="#f23645"/>
<rect x="1730.2" y="574.2" width="2" height="56.8" fill="#089981"/>
<rect x="1730.2" y="635.0" width="2" height="15.6" fill="#089981"/>
<rect x="1727.2" y="631.0" width="8" height="4.0" fill="#089981"/>
<rect x="1739.2" y="624.2" width="2" height="26.3" fill="#f23645"/>
<rect x="1736.2" y="633.2" width="8" height="15.4" fill="#f23645"/>
<rect x="1748.3" y="647.2" width="2" height="146.4" fill="#f23645"/>
<rect x="1745.3" y="647.9" width="8" height="68.8" fill="#f23645"/>
<rect x="1757.3" y="715.6" width="2" height="31.1" fill="#f23645"/>
<rect x="1754.3" y="716.0" width="8" height="18.7" fill="#f23645"/>
<rect x="1766.3" y="724.1" width="2" height="41.5" fill="#f23645"/>
<rect x="1763.3" y="735.0" width="8" height="8.5" fill="#f23645"/>
<rect x="1775.3" y="725.1" width="2" height="29.7" fill="#f23645"/>
<rect x="1772.3" y="743.1" width="8" height="5.7" fill="#f23645"/>
<rect x="1784.3" y="738.1" width="2" height="67.6" fill="#f23645"/>
<rect x="1781.3" y="748.1" width="8" height="57.7" fill="#f23645"/>
<rect x="1793.4" y="795.3" width="2" height="69.0" fill="#f23645"/>
<rect x="1790.4" y="805.2" width="8" height="11.4" fill="#f23645"/>
<rect x="1802.4" y="758.0" width="2" height="14.5" fill="#089981"/>
<rect x="1802.4" y="816.4" width="2" height="11.2" fill="#089981"/>
<rect x="1799.4" y="772.5" width="8" height="43.9" fill="#089981"/>
<rect x="1801.4" y="774.5" width="4" height="39.9" fill="#2962ff"/>
<rect x="1811.4" y="755.2" width="2" height="53.4" fill="#f23645"/>
<rect x="1808.4" y="772.3" width="8" height="20.4" fill="#f23645"/>
<rect x="1820.4" y="771.1" width="2" height="17.5" fill="#089981"/>
<rect x="1820.4" y="792.5" width="2" height="5.1" fill="#089981"/>
<rect x="1817.4" y="788.5" width="8" height="4.0" fill="#089981"/>
<rect x="1829.4" y="790.5" width="2" height="37.2" fill="#f23645"/>
<rect x="1826.4" y="791.0" width="8" height="15.7" fill="#f23645"/>
<rect x="1838.4" y="760.2" width="2" height="30.1" fill="#089981"/>
<rect x="1838.4" y="806.4" width="2" height="0.0" fill="#089981"/>
<rect x="1835.4" y="790.3" width="8" height="16.1" fill="#089981"/>
<rect x="1837.4" y="792.3" width="4" height="12.1" fill="#2962ff"/>
<rect x="1847.5" y="767.0" width="2" height="18.9" fill="#089981"/>
<rect x="1847.5" y="789.9" width="2" height="26.7" fill="#089981"/>
<rect x="1844.5" y="785.9" width="8" height="4.0" fill="#089981"/>
<rect x="1856.5" y="778.0" width="2" height="6.9" fill="#089981"/>
<rect x="1856.5" y="788.9" width="2" height="9.7" fill="#089981"/>
<rect x="1853.5" y="784.9" width="8" height="4.0" fill="#089981"/>
<rect x="1865.5" y="738.1" width="2" height="8.1" fill="#089981"/>
<rect x="1865.5" y="786.5" width="2" height="6.2" fill="#089981"/>
<rect x="1862.5" y="746.2" width="8" height="40.3" fill="#089981"/>
<rect x="1864.5" y="748.2" width="4" height="36.3" fill="#2962ff"/>
<rect x="1874.5" y="722.9" width="2" height="68.8" fill="#f23645"/>
<rect x="1871.5" y="746.2" width="8" height="38.4" fill="#f23645"/>
<rect x="1883.5" y="776.1" width="2" height="36.8" fill="#f23645"/>
<rect x="1880.5" y="784.1" width="8" height="27.5" fill="#f23645"/>
<rect x="1892.5" y="801.2" width="2" height="4.3" fill="#089981"/>
<rect x="1892.5" y="811.4" width="2" height="6.2" fill="#089981"/>
<rect x="1889.5" y="805.5" width="8" height="5.9" fill="#089981"/>
<rect x="1891.5" y="807.5" width="4" height="1.9" fill="#2962ff"/>
<rect x="1901.6" y="796.9" width="2" height="4.6" fill="#089981"/>
<rect x="1901.6" y="805.6" width="2" height="22.2" fill="#089981"/>
<rect x="1898.6" y="801.6" width="8" height="4.0" fill="#089981"/>
<rect x="1910.6" y="798.1" width="2" height="33.7" fill="#f23645"/>
<rect x="1907.6" y="804.3" width="8" height="24.4" fill="#f23645"/>
<rect x="1919.6" y="788.2" width="2" height="25.1" fill="#089981"/>
<rect x="1919.6" y="828.5" width="2" height="5.2" fill="#089981"/>
<rect x="1916.6" y="813.3" width="8" height="15.2" fill="#089981"/>
<rect x="1918.6" y="815.3" width="4" height="11.2" fill="#2962ff"/>
<rect x="1928.6" y="806.2" width="2" height="16.6" fill="#f23645"/>
<rect x="1925.6" y="813.3" width="8" height="8.5" fill="#f23645"/>
<rect x="1937.6" y="793.2" width="2" height="17.2" fill="#089981"/>
<rect x="1937.6" y="821.6" width="2" height="1.0" fill="#089981"/>
<rect x="1934.6" y="810.3" width="8" height="11.3" fill="#089981"/>
<rect x="1936.6" y="812.3" width="4" height="7.3" fill="#2962ff"/>
<rect x="1946.6" y="808.0" width="2" height="29.5" fill="#f23645"/>
<rect x="1943.6" y="810.1" width="8" height="12.4" fill="#f23645"/>
<rect x="1955.7" y="814.1" width="2" height="2.3" fill="#089981"/>
<rect x="1955.7" y="822.5" width="2" height="6.5" fill="#089981"/>
<rect x="1952.7" y="816.4" width="8" height="6.1" fill="#089981"/>
<rect x="1954.7" y="818.4" width="4" height="2.1" fill="#2962ff"/>
<rect x="1964.7" y="603.1" width="2" height="58.4" fill="#089981"/>
<rect x="1964.7" y="816.4" width="2" height="6.3" fill="#089981"/>
<rect x="1961.7" y="661.5" width="8" height="154.9" fill="#089981"/>
<rect x="1963.7" y="663.5" width="4" height="150.9" fill="#2962ff"/>
<rect x="1973.7" y="590.9" width="2" height="81.0" fill="#f23645"/>
<rect x="1970.7" y="661.3" width="8" height="6.7" fill="#f23645"/>
<rect x="1982.7" y="659.2" width="2" height="119.5" fill="#f23645"/>
<rect x="1979.7" y="667.1" width="8" height="70.5" fill="#f23645"/>
<rect x="1991.7" y="720.1" width="2" height="41.9" fill="#f23645"/>
<rect x="1988.7" y="737.1" width="8" height="23.9" fill="#f23645"/>
<rect x="2000.7" y="681.2" width="2" height="21.1" fill="#089981"/>
<rect x="2000.7" y="760.5" width="2" height="16.3" fill="#089981"/>
<rect x="1997.7" y="702.3" width="8" height="58.2" fill="#089981"/>
<rect x="1999.7" y="704.3" width="4" height="54.2" fill="#2962ff"/>
<rect x="2009.8" y="676.3" width="2" height="13.0" fill="#089981"/>
<rect x="2009.8" y="702.3" width="2" height="19.5" fill="#089981"/>
<rect x="2006.8" y="689.3" width="8" height="13.0" fill="#089981"/>
<rect x="2008.8" y="691.3" width="4" height="9.0" fill="#2962ff"/>
<rect x="2018.8" y="674.0" width="2" height="45.0" fill="#f23645"/>
<rect x="2015.8" y="689.1" width="8" height="27.8" fill="#f23645"/>
<rect x="2027.8" y="711.3" width="2" height="56.5" fill="#f23645"/>
<rect x="2024.8" y="716.1" width="8" height="39.6" fill="#f23645"/>
<rect x="2036.8" y="752.1" width="2" height="28.7" fill="#f23645"/>
<rect x="2033.8" y="755.1" width="8" height="7.5" fill="#f23645"/>
<rect x="2045.8" y="760.9" width="2" height="33.9" fill="#f23645"/>
<rect x="2042.8" y="762.2" width="8" height="19.5" fill="#f23645"/>
<rect x="2054.9" y="766.1" width="2" height="4.4" fill="#089981"/>
<rect x="2054.9" y="781.6" width="2" height="2.3" fill="#089981"/>
<rect x="2051.9" y="770.5" width="8" height="11.1" fill="#089981"/>
<rect x="2053.9" y="772.5" width="4" height="7.1" fill="#2962ff"/>
<rect x="2063.9" y="718.4" width="2" height="16.1" fill="#089981"/>
<rect x="2063.9" y="771.0" width="2" height="0.8" fill="#089981"/>
<rect x="2060.9" y="734.5" width="8" height="36.4" fill="#089981"/>
<rect x="2062.9" y="736.5" width="4" height="32.4" fill="#2962ff"/>
<rect x="2072.9" y="714.2" width="2" height="14.4" fill="#089981"/>
<rect x="2072.9" y="734.3" width="2" height="19.5" fill="#089981"/>
<rect x="2069.9" y="728.7" width="8" height="5.7" fill="#089981"/>
<rect x="2071.9" y="730.7" width="4" height="1.7" fill="#2962ff"/>
<rect x="2081.9" y="715.1" width="2" height="8.4" fill="#089981"/>
<rect x="2081.9" y="728.5" width="2" height="17.4" fill="#089981"/>
<rect x="2078.9" y="723.4" width="8" height="5.0" fill="#089981"/>
<rect x="2080.9" y="725.4" width="4" height="1.0" fill="#2962ff"/>
<rect x="2090.9" y="699.2" width="2" height="19.0" fill="#089981"/>
<rect x="2090.9" y="723.4" width="2" height="13.4" fill="#089981"/>
<rect x="2087.9" y="718.2" width="8" height="5.2" fill="#089981"/>
<rect x="2089.9" y="720.2" width="4" height="1.2" fill="#2962ff"/>
<rect x="2099.9" y="713.2" width="2" height="38.5" fill="#f23645"/>
<rect x="2096.9" y="718.2" width="8" height="27.4" fill="#f23645"/>
<rect x="2109.0" y="718.2" width="2" height="13.2" fill="#089981"/>
<rect x="2109.0" y="745.6" width="2" height="6.1" fill="#089981"/>
<rect x="2106.0" y="731.4" width="8" height="14.2" fill="#089981"/>
<rect x="2108.0" y="733.4" width="4" height="10.2" fill="#2962ff"/>
<rect x="2118.0" y="727.0" width="2" height="26.8" fill="#f23645"/>
<rect x="2115.0" y="731.2" width="8" height="13.4" fill="#f23645"/>
<rect x="2127.0" y="742.1" width="2" height="30.6" fill="#f23645"/>
<rect x="2124.0" y="744.2" width="8" height="22.6" fill="#f23645"/>
<rect x="2136.0" y="762.2" width="2" height="44.6" fill="#f23645"/>
<rect x="2133.0" y="766.4" width="8" height="12.4" fill="#f23645"/>
<rect x="2145.0" y="754.2" width="2" height="13.2" fill="#089981"/>
<rect x="2145.0" y="778.5" width="2" height="11.3" fill="#089981"/>
<rect x="2142.0" y="767.4" width="8" height="11.1" fill="#089981"/>
<rect x="2144.0" y="769.4" width="4" height="7.1" fill="#2962ff"/>
<rect x="2154.0" y="753.2" width="2" height="26.6" fill="#f23645"/>
<rect x="2151.0" y="765.9" width="8" height="2.1" fill="#f23645"/>
<rect x="2163.1" y="736.2" width="2" height="18.2" fill="#089981"/>
<rect x="2163.1" y="767.4" width="2" height="9.4" fill="#089981"/>
<rect x="2160.1" y="754.4" width="8" height="13.0" fill="#089981"/>
<rect x="2162.1" y="756.4" width="4" height="9.0" fill="#2962ff"/>
<rect x="2172.1" y="683.3" width="2" height="61.1" fill="#089981"/>
<rect x="2172.1" y="754.4" width="2" height="7.3" fill="#089981"/>
<rect x="2169.1" y="744.4" width="8" height="10.0" fill="#089981"/>
<rect x="2171.1" y="746.4" width="4" height="6.0" fill="#2962ff"/>
<rect x="2181.1" y="719.0" width="2" height="3.3" fill="#089981"/>
<rect x="2181.1" y="744.4" width="2" height="5.2" fill="#089981"/>
<rect x="2178.1" y="722.4" width="8" height="22.0" fill="#089981"/>
<rect x="2180.1" y="724.4" width="4" height="18.0" fill="#2962ff"/>
<rect x="2190.1" y="712.2" width="2" height="48.6" fill="#f23645"/>
<rect x="2187.1" y="722.1" width="8" height="33.5" fill="#f23645"/>
<rect x="2199.1" y="741.2" width="2" height="10.9" fill="#089981"/>
<rect x="2199.1" y="756.1" width="2" height="9.6" fill="#089981"/>
<rect x="2196.1" y="752.1" width="8" height="4.0" fill="#089981"/>
<rect x="2208.1" y="746.0" width="2" height="14.6" fill="#f23645"/>
<rect x="2205.1" y="752.2" width="8" height="8.4" fill="#f23645"/>
<rect x="2217.2" y="758.1" width="2" height="25.6" fill="#f23645"/>
<rect x="2214.2" y="760.1" width="8" height="15.6" fill="#f23645"/>
<rect x="2226.2" y="764.1" width="2" height="8.6" fill="#089981"/>
<rect x="2226.2" y="776.7" width="2" height="1.0" fill="#089981"/>
<rect x="2223.2" y="772.7" width="8" height="4.0" fill="#089981"/>
<rect x="2235.2" y="769.1" width="2" height="1.0" fill="#089981"/>
<rect x="2235.2" y="775.7" width="2" height="9.0" fill="#089981"/>
<rect x="2232.2" y="770.2" width="8" height="5.5" fill="#089981"/>
<rect x="2234.2" y="772.2" width="4" height="1.5" fill="#2962ff"/>
<rect x="2244.2" y="768.0" width="2" height="11.7" fill="#f23645"/>
<rect x="2241.2" y="770.0" width="8" height="4.9" fill="#f23645"/>
<rect x="2253.2" y="773.2" width="2" height="61.6" fill="#f23645"/>
<rect x="2250.2" y="774.0" width="8" height="38.9" fill="#f23645"/>
<rect x="2262.3" y="803.1" width="2" height="6.0" fill="#089981"/>
<rect x="2262.3" y="813.2" width="2" height="8.7" fill="#089981"/>
<rect x="2259.3" y="809.2" width="8" height="4.0" fill="#089981"/>
<rect x="2271.3" y="784.1" width="2" height="12.2" fill="#089981"/>
<rect x="2271.3" y="809.5" width="2" height="3.0" fill="#089981"/>
<rect x="2268.3" y="796.3" width="8" height="13.2" fill="#089981"/>
<rect x="2270.3" y="798.3" width="4" height="9.2" fill="#2962ff"/>
<rect x="2280.3" y="778.2" width="2" height="11.1" fill="#089981"/>
<rect x="2280.3" y="796.6" width="2" height="18.1" fill="#089981"/>
<rect x="2277.3" y="789.2" width="8" height="7.4" fill="#089981"/>
<rect x="2279.3" y="791.2" width="4" height="3.4" fill="#2962ff"/>
<rect x="2289.3" y="776.2" width="2" height="25.6" fill="#f23645"/>
<rect x="2286.3" y="789.2" width="8" height="9.4" fill="#f23645"/>
<rect x="2298.3" y="766.1" width="2" height="17.3" fill="#089981"/>
<rect x="2298.3" y="798.6" width="2" height="6.0" fill="#089981"/>
<rect x="2295.3" y="783.4" width="8" height="15.2" fill="#089981"/>
<rect x="2297.3" y="785.4" width="4" height="11.2" fill="#2962ff"/>
<rect x="2307.3" y="760.1" width="2" height="16.1" fill="#089981"/>
<rect x="2307.3" y="783.6" width="2" height="7.2" fill="#089981"/>
<rect x="2304.3" y="776.2" width="8" height="7.4" fill="#089981"/>
<rect x="2306.3" y="778.2" width="4" height="3.4" fill="#2962ff"/>
<rect x="2316.4" y="740.2" width="2" height="15.1" fill="#089981"/>
<rect x="2316.4" y="776.5" width="2" height="4.2" fill="#089981"/>
<rect x="2313.4" y="755.2" width="8" height="21.3" fill="#089981"/>
<rect x="2315.4" y="757.2" width="4" height="17.3" fill="#2962ff"/>
<rect x="2325.4" y="751.1" width="2" height="21.8" fill="#f23645"/>
<rect x="2322.4" y="755.1" width="8" height="12.9" fill="#f23645"/>
<rect x="2334.4" y="758.3" width="2" height="6.4" fill="#089981"/>
<rect x="2334.4" y="768.6" width="2" height="5.2" fill="#089981"/>
<rect x="2331.4" y="764.6" width="8" height="4.0" fill="#089981"/>
<rect x="2343.4" y="760.1" width="2" height="66.7" fill="#f23645"/>
<rect x="2340.4" y="767.3" width="8" height="36.5" fill="#f23645"/>
<rect x="2352.4" y="800.5" width="2" height="14.2" fill="#f23645"/>
<rect x="2349.4" y="803.0" width="8" height="3.9" fill="#f23645"/>
<rect x="2361.4" y="787.1" width="2" height="22.6" fill="#f23645"/>
<rect x="2358.4" y="804.9" width="8" height="2.0" fill="#f23645"/>
<rect x="2370.5" y="801.3" width="2" height="18.6" fill="#f23645"/>
<rect x="2367.5" y="806.3" width="8" height="7.5" fill="#f23645"/>
<rect x="2379.5" y="806.2" width="2" height="3.7" fill="#089981"/>
<rect x="2379.5" y="813.9" width="2" height="6.0" fill="#089981"/>
<rect x="2376.5" y="809.9" width="8" height="4.0" fill="#089981"/>
<rect x="2388.5" y="805.2" width="2" height="10.4" fill="#f23645"/>
<rect x="2385.5" y="812.2" width="8" height="3.4" fill="#f23645"/>
<rect x="2397.5" y="805.2" width="2" height="2.0" fill="#089981"/>
<rect x="2397.5" y="815.5" width="2" height="4.2" fill="#089981"/>
<rect x="2394.5" y="807.2" width="8" height="8.4" fill="#089981"/>
<rect x="2396.5" y="809.2" width="4" height="4.4" fill="#2962ff"/>
<rect x="2406.5" y="802.1" width="2" height="14.6" fill="#f23645"/>
<rect x="2403.5" y="807.2" width="8" height="7.5" fill="#f23645"/>
<rect x="2415.5" y="814.2" width="2" height="15.6" fill="#f23645"/>
<rect x="2412.5" y="814.2" width="8" height="6.5" fill="#f23645"/>
<rect x="2424.6" y="811.0" width="2" height="0.3" fill="#089981"/>
<rect x="2424.6" y="820.7" width="2" height="6.0" fill="#089981"/>
<rect x="2421.6" y="811.4" width="8" height="9.4" fill="#089981"/>
<rect x="2423.6" y="813.4" width="4" height="5.4" fill="#2962ff"/>
<rect x="2433.6" y="765.2" width="2" height="17.1" fill="#089981"/>
<rect x="2433.6" y="811.5" width="2" height="0.0" fill="#089981"/>
<rect x="2430.6" y="782.3" width="8" height="29.2" fill="#089981"/>
<rect x="2432.6" y="784.3" width="4" height="25.2" fill="#2962ff"/>
<rect x="2442.6" y="773.0" width="2" height="1.2" fill="#089981"/>
<rect x="2442.6" y="782.3" width="2" height="13.3" fill="#089981"/>
<rect x="2439.6" y="774.2" width="8" height="8.1" fill="#089981"/>
<rect x="2441.6" y="776.2" width="4" height="4.1" fill="#2962ff"/>
<rect x="2451.6" y="746.2" width="2" height="11.4" fill="#089981"/>
<rect x="2451.6" y="778.3" width="2" height="8.3" fill="#089981"/>
<rect x="2448.6" y="757.6" width="8" height="20.6" fill="#089981"/>
<rect x="2450.6" y="759.6" width="4" height="16.6" fill="#2962ff"/>
<rect x="2460.6" y="730.3" width="2" height="19.0" fill="#089981"/>
<rect x="2460.6" y="757.6" width="2" height="27.0" fill="#089981"/>
<rect x="2457.6" y="749.3" width="8" height="8.3" fill="#089981"/>
<rect x="2459.6" y="751.3" width="4" height="4.3" fill="#2962ff"/>
<rect x="2469.6" y="744.1" width="2" height="34.6" fill="#f23645"/>
<rect x="2466.6" y="749.3" width="8" height="6.2" fill="#f23645"/>
<rect x="2478.7" y="730.3" width="2" height="5.2" fill="#089981"/>
<rect x="2478.7" y="755.2" width="2" height="5.2" fill="#089981"/>
<rect x="2475.7" y="735.6" width="8" height="19.7" fill="#089981"/>
<rect x="2477.7" y="737.6" width="4" height="15.7" fill="#2962ff"/>
<rect x="2487.7" y="685.3" width="2" height="10.2" fill="#089981"/>
<rect x="2487.7" y="735.1" width="2" height="0.0" fill="#089981"/>
<rect x="2484.7" y="695.5" width="8" height="39.6" fill="#089981"/>
<rect x="2486.7" y="697.5" width="4" height="35.6" fill="#2962ff"/>
<rect x="2496.7" y="683.4" width="2" height="40.3" fill="#f23645"/>
<rect x="2493.7" y="695.5" width="8" height="21.1" fill="#f23645"/>
<rect x="2505.7" y="704.2" width="2" height="28.2" fill="#f23645"/>
<rect x="2502.7" y="716.1" width="8" height="3.6" fill="#f23645"/>
<rect x="2514.7" y="710.2" width="2" height="19.5" fill="#f23645"/>
<rect x="2511.7" y="719.2" width="8" height="6.4" fill="#f23645"/>
<rect x="2523.8" y="712.3" width="2" height="50.5" fill="#f23645"/>
<rect x="2520.8" y="725.1" width="8" height="31.3" fill="#f23645"/>
<rect x="2532.8" y="729.1" width="2" height="21.8" fill="#089981"/>
<rect x="2532.8" y="756.4" width="2" height="11.2" fill="#089981"/>
<rect x="2529.8" y="751.0" width="8" height="5.5" fill="#089981"/>
<rect x="2531.8" y="753.0" width="4" height="1.5" fill="#2962ff"/>
<rect x="2541.8" y="722.5" width="2" height="13.8" fill="#089981"/>
<rect x="2541.8" y="751.4" width="2" height="14.2" fill="#089981"/>
<rect x="2538.8" y="736.3" width="8" height="15.2" fill="#089981"/>
<rect x="2540.8" y="738.3" width="4" height="11.2" fill="#2962ff"/>
<rect x="2550.8" y="735.6" width="2" height="27.3" fill="#f23645"/>
<rect x="2547.8" y="736.0" width="8" height="18.5" fill="#f23645"/>
<rect x="2559.8" y="742.2" width="2" height="16.6" fill="#f23645"/>
<rect x="2556.8" y="752.4" width="8" height="2.4" fill="#f23645"/>
<rect x="2568.8" y="741.2" width="2" height="6.6" fill="#089981"/>
<rect x="2568.8" y="756.7" width="2" height="2.1" fill="#089981"/>
<rect x="2565.8" y="747.9" width="8" height="8.8" fill="#089981"/>
<rect x="2567.8" y="749.9" width="4" height="4.8" fill="#2962ff"/>
<rect x="2577.9" y="728.4" width="2" height="7.8" fill="#089981"/>
<rect x="2577.9" y="747.4" width="2" height="4.3" fill="#089981"/>
<rect x="2574.9" y="736.3" width="8" height="11.2" fill="#089981"/>
<rect x="2576.9" y="738.3" width="4" height="7.2" fill="#2962ff"/>
<rect x="2586.9" y="720.1" width="2" height="12.7" fill="#089981"/>
<rect x="2586.9" y="736.8" width="2" height="8.0" fill="#089981"/>
<rect x="2583.9" y="732.8" width="8" height="4.0" fill="#089981"/>
<rect x="2595.9" y="594.9" width="2" height="4.5" fill="#089981"/>
<rect x="2595.9" y="734.4" width="2" height="4.3" fill="#089981"/>
<rect x="2592.9" y="599.4" width="8" height="135.0" fill="#089981"/>
<rect x="2594.9" y="601.4" width="4" height="131.0" fill="#2962ff"/>
<rect x="2604.9" y="530.3" width="2" height="45.1" fill="#089981"/>
<rect x="2604.9" y="599.4" width="2" height="45.6" fill="#089981"/>
<rect x="2601.9" y="575.4" width="8" height="24.0" fill="#089981"/>
<rect x="2603.9" y="577.4" width="4" height="20.0" fill="#2962ff"/>
<rect x="2613.9" y="546.2" width="2" height="79.7" fill="#f23645"/>
<rect x="2610.9" y="575.2" width="8" height="23.5" fill="#f23645"/>
<rect x="2622.9" y="562.1" width="2" height="5.0" fill="#089981"/>
<rect x="2622.9" y="598.7" width="2" height="52.2" fill="#089981"/>
<rect x="2619.9" y="567.1" width="8" height="31.6" fill="#089981"/>
<rect x="2621.9" y="569.1" width="4" height="27.6" fill="#2962ff"/>
<rect x="2632.0" y="507.3" width="2" height="8.1" fill="#089981"/>
<rect x="2632.0" y="567.3" width="2" height="7.4" fill="#089981"/>
<rect x="2629.0" y="515.4" width="8" height="52.0" fill="#089981"/>
<rect x="2631.0" y="517.4" width="4" height="48.0" fill="#2962ff"/>
<rect x="2641.0" y="514.7" width="2" height="64.3" fill="#f23645"/>
<rect x="2638.0" y="515.1" width="8" height="24.4" fill="#f23645"/>
<rect x="2650.0" y="527.2" width="2" height="110.6" fill="#f23645"/>
<rect x="2647.0" y="539.1" width="8" height="47.4" fill="#f23645"/>
<rect x="2659.0" y="577.3" width="2" height="44.6" fill="#f23645"/>
<rect x="2656.0" y="586.1" width="8" height="6.4" fill="#f23645"/>
<rect x="2668.0" y="583.5" width="2" height="32.5" fill="#f23645"/>
<rect x="2665.0" y="592.3" width="8" height="18.3" fill="#f23645"/>
<rect x="2677.0" y="574.9" width="2" height="13.4" fill="#089981"/>
<rect x="2677.0" y="610.5" width="2" height="45.2" fill="#089981"/>
<rect x="2674.0" y="588.3" width="8" height="22.1" fill="#089981"/>
<rect x="2676.0" y="590.3" width="4" height="18.1" fill="#2962ff"/>
<rect x="2686.1" y="577.3" width="2" height="43.7" fill="#f23645"/>
<rect x="2683.1" y="588.2" width="8" height="31.8" fill="#f23645"/>
<rect x="2695.1" y="591.2" width="2" height="15.2" fill="#089981"/>
<rect x="2695.1" y="619.7" width="2" height="8.0" fill="#089981"/>
<rect x="2692.1" y="606.4" width="8" height="13.2" fill="#089981"/>
<rect x="2694.1" y="608.4" width="4" height="9.2" fill="#2962ff"/>
<rect x="2704.1" y="569.2" width="2" height="12.2" fill="#089981"/>
<rect x="2704.1" y="606.8" width="2" height="1.0" fill="#089981"/>
<rect x="2701.1" y="581.5" width="8" height="25.3" fill="#089981"/>
<rect x="2703.1" y="583.5" width="4" height="21.3" fill="#2962ff"/>
<rect x="2713.1" y="571.3" width="2" height="26.5" fill="#f23645"/>
<rect x="2710.1" y="581.3" width="8" height="13.2" fill="#f23645"/>
<rect x="2722.1" y="581.1" width="2" height="38.5" fill="#f23645"/>
<rect x="2719.1" y="594.2" width="8" height="16.4" fill="#f23645"/>
<rect x="2731.2" y="604.3" width="2" height="29.5" fill="#f23645"/>
<rect x="2728.2" y="610.3" width="8" height="16.2" fill="#f23645"/>
<rect x="2740.2" y="624.0" width="2" height="43.9" fill="#f23645"/>
<rect x="2737.2" y="626.2" width="8" height="26.6" fill="#f23645"/>
<rect x="2749.2" y="640.3" width="2" height="8.0" fill="#089981"/>
<rect x="2749.2" y="652.7" width="2" height="15.2" fill="#089981"/>
<rect x="2746.2" y="648.3" width="8" height="4.4" fill="#089981"/>
<rect x="2748.2" y="650.3" width="4" height="0.4" fill="#2962ff"/>
<rect x="2758.2" y="643.3" width="2" height="75.5" fill="#f23645"/>
<rect x="2755.2" y="648.1" width="8" height="41.5" fill="#f23645"/>
<rect x="2767.2" y="663.2" width="2" height="2.2" fill="#089981"/>
<rect x="2767.2" y="689.5" width="2" height="12.2" fill="#089981"/>
<rect x="2764.2" y="665.4" width="8" height="24.1" fill="#089981"/>
<rect x="2766.2" y="667.4" width="4" height="20.1" fill="#2962ff"/>
<rect x="2776.2" y="615.1" width="2" height="5.2" fill="#089981"/>
<rect x="2776.2" y="665.7" width="2" height="1.0" fill="#089981"/>
<rect x="2773.2" y="620.3" width="8" height="45.4" fill="#089981"/>
<rect x="2775.2" y="622.3" width="4" height="41.4" fill="#2962ff"/>
<rect x="2785.3" y="616.1" width="2" height="39.5" fill="#f23645"/>
<rect x="2782.3" y="620.3" width="8" height="18.4" fill="#f23645"/>
<rect x="2794.3" y="629.2" width="2" height="71.7" fill="#f23645"/>
<rect x="2791.3" y="638.3" width="8" height="52.6" fill="#f23645"/>
<rect x="2803.3" y="675.3" width="2" height="73.4" fill="#f23645"/>
<rect x="2800.3" y="690.2" width="8" height="8.5" fill="#f23645"/>
<rect x="2812.3" y="679.5" width="2" height="25.3" fill="#f23645"/>
<rect x="2809.3" y="696.9" width="8" height="2.0" fill="#f23645"/>
<rect x="2821.3" y="665.2" width="2" height="13.1" fill="#089981"/>
<rect x="2821.3" y="699.7" width="2" height="2.0" fill="#089981"/>
<rect x="2818.3" y="678.3" width="8" height="21.4" fill="#089981"/>
<rect x="2820.3" y="680.3" width="4" height="17.4" fill="#2962ff"/>
<rect x="2830.3" y="676.1" width="2" height="36.9" fill="#f23645"/>
<rect x="2827.3" y="678.1" width="8" height="33.7" fill="#f23645"/>
<rect x="2839.4" y="697.1" width="2" height="10.9" fill="#089981"/>
<rect x="2839.4" y="711.9" width="2" height="13.9" fill="#089981"/>
<rect x="2836.4" y="707.9" width="8" height="4.0" fill="#089981"/>
<rect x="2848.4" y="680.3" width="2" height="12.1" fill="#089981"/>
<rect x="2848.4" y="708.6" width="2" height="0.0" fill="#089981"/>
<rect x="2845.4" y="692.4" width="8" height="16.2" fill="#089981"/>
<rect x="2847.4" y="694.4" width="4" height="12.2" fill="#2962ff"/>
<rect x="2857.4" y="676.3" width="2" height="9.2" fill="#089981"/>
<rect x="2857.4" y="692.5" width="2" height="10.2" fill="#089981"/>
<rect x="2854.4" y="685.5" width="8" height="7.0" fill="#089981"/>
<rect x="2856.4" y="687.5" width="4" height="3.0" fill="#2962ff"/>
<rect x="2866.4" y="634.2" width="2" height="14.1" fill="#089981"/>
<rect x="2866.4" y="685.7" width="2" height="3.2" fill="#089981"/>
<rect x="2863.4" y="648.3" width="8" height="37.4" fill="#089981"/>
<rect x="2865.4" y="650.3" width="4" height="33.4" fill="#2962ff"/>
<rect x="2875.4" y="648.1" width="2" height="47.7" fill="#f23645"/>
<rect x="2872.4" y="648.1" width="8" height="25.6" fill="#f23645"/>
<rect x="2884.4" y="666.1" width="2" height="25.6" fill="#f23645"/>
<rect x="2881.4" y="671.8" width="8" height="2.0" fill="#f23645"/>
<rect x="2893.5" y="609.3" width="2" height="8.0" fill="#089981"/>
<rect x="2893.5" y="674.4" width="2" height="3.4" fill="#089981"/>
<rect x="2890.5" y="617.3" width="8" height="57.1" fill="#089981"/>
<rect x="2892.5" y="619.3" width="4" height="53.1" fill="#2962ff"/>
<rect x="2902.5" y="605.3" width="2" height="8.9" fill="#089981"/>
<rect x="2902.5" y="618.1" width="2" height="23.6" fill="#089981"/>
<rect x="2899.5" y="614.1" width="8" height="4.0" fill="#089981"/>
<rect x="2911.5" y="563.2" width="2" height="39.2" fill="#089981"/>
<rect x="2911.5" y="614.6" width="2" height="4.2" fill="#089981"/>
<rect x="2908.5" y="602.4" width="8" height="12.2" fill="#089981"/>
<rect x="2910.5" y="604.4" width="4" height="8.2" fill="#2962ff"/>
<rect x="2920.5" y="445.1" width="2" height="16.6" fill="#089981"/>
<rect x="2920.5" y="602.4" width="2" height="4.0" fill="#089981"/>
<rect x="2917.5" y="461.7" width="8" height="140.7" fill="#089981"/>
<rect x="2919.5" y="463.7" width="4" height="136.7" fill="#2962ff"/>
<rect x="2929.5" y="355.1" width="2" height="41.3" fill="#089981"/>
<rect x="2929.5" y="461.7" width="2" height="2.8" fill="#089981"/>
<rect x="2926.5" y="396.4" width="8" height="65.3" fill="#089981"/>
<rect x="2928.5" y="398.4" width="4" height="61.3" fill="#2962ff"/>
<rect x="2938.5" y="334.2" width="2" height="25.2" fill="#089981"/>
<rect x="2938.5" y="396.4" width="2" height="5.2" fill="#089981"/>
<rect x="2935.5" y="359.4" width="8" height="37.0" fill="#089981"/>
<rect x="2937.5" y="361.4" width="4" height="33.0" fill="#2962ff"/>
<rect x="2947.6" y="349.2" width="2" height="5.7" fill="#089981"/>
<rect x="2947.6" y="359.6" width="2" height="37.0" fill="#089981"/>
<rect x="2944.6" y="354.9" width="8" height="4.7" fill="#089981"/>
<rect x="2946.6" y="356.9" width="4" height="0.7" fill="#2962ff"/>
<rect x="2956.6" y="331.9" width="2" height="8.8" fill="#089981"/>
<rect x="2956.6" y="354.6" width="2" height="28.2" fill="#089981"/>
<rect x="2953.6" y="340.6" width="8" height="14.0" fill="#089981"/>
<rect x="2955.6" y="342.6" width="4" height="10.0" fill="#2962ff"/>
<rect x="2965.6" y="340.2" width="2" height="56.5" fill="#f23645"/>
<rect x="2962.6" y="340.4" width="8" height="32.0" fill="#f23645"/>
<rect x="2974.6" y="367.9" width="2" height="105.6" fill="#f23645"/>
<rect x="2971.6" y="372.2" width="8" height="62.4" fill="#f23645"/>
<rect x="2983.6" y="413.0" width="2" height="17.9" fill="#089981"/>
<rect x="2983.6" y="434.9" width="2" height="5.6" fill="#089981"/>
<rect x="2980.6" y="430.9" width="8" height="4.0" fill="#089981"/>
<rect x="2992.7" y="376.9" width="2" height="10.4" fill="#089981"/>
<rect x="2992.7" y="433.4" width="2" height="4.0" fill="#089981"/>
<rect x="2989.7" y="387.4" width="8" height="46.0" fill="#089981"/>
<rect x="2991.7" y="389.4" width="4" height="42.0" fill="#2962ff"/>
<rect x="3001.7" y="376.9" width="2" height="54.6" fill="#f23645"/>
<rect x="2998.7" y="387.4" width="8" height="30.1" fill="#f23645"/>
<rect x="3010.7" y="357.3" width="2" height="45.3" fill="#089981"/>
<rect x="3010.7" y="417.5" width="2" height="17.1" fill="#089981"/>
<rect x="3007.7" y="402.6" width="8" height="14.9" fill="#089981"/>
<rect x="3009.7" y="404.6" width="4" height="10.9" fill="#2962ff"/>
<rect x="3019.7" y="376.2" width="2" height="41.3" fill="#f23645"/>
<rect x="3016.7" y="402.3" width="8" height="15.2" fill="#f23645"/>
<rect x="3028.7" y="413.3" width="2" height="71.2" fill="#f23645"/>
<rect x="3025.7" y="417.1" width="8" height="52.7" fill="#f23645"/>
<rect x="3037.7" y="449.3" width="2" height="85.4" fill="#f23645"/>
<rect x="3034.7" y="469.3" width="8" height="18.3" fill="#f23645"/>
<rect x="3046.8" y="454.1" width="2" height="17.1" fill="#089981"/>
<rect x="3046.8" y="487.5" width="2" height="5.0" fill="#089981"/>
<rect x="3043.8" y="471.2" width="8" height="16.4" fill="#089981"/>
<rect x="3045.8" y="473.2" width="4" height="12.4" fill="#2962ff"/>
<rect x="3055.8" y="469.0" width="2" height="30.6" fill="#f23645"/>
<rect x="3052.8" y="471.2" width="8" height="21.4" fill="#f23645"/>
<rect x="3064.8" y="491.4" width="2" height="68.3" fill="#f23645"/>
<rect x="3061.8" y="492.2" width="8" height="4.3" fill="#f23645"/>
<rect x="3073.8" y="495.3" width="2" height="86.4" fill="#f23645"/>
<rect x="3070.8" y="496.0" width="8" height="82.6" fill="#f23645"/>
<rect x="3082.8" y="561.0" width="2" height="14.9" fill="#089981"/>
<rect x="3082.8" y="579.9" width="2" height="35.9" fill="#089981"/>
<rect x="3079.8" y="575.9" width="8" height="4.0" fill="#089981"/>
<rect x="3091.8" y="562.8" width="2" height="9.5" fill="#089981"/>
<rect x="3091.8" y="578.7" width="2" height="6.1" fill="#089981"/>
<rect x="3088.8" y="572.4" width="8" height="6.3" fill="#089981"/>
<rect x="3090.8" y="574.4" width="4" height="2.3" fill="#2962ff"/>
<rect x="3100.9" y="531.1" width="2" height="51.7" fill="#f23645"/>
<rect x="3097.9" y="572.1" width="8" height="8.9" fill="#f23645"/>
<rect x="3109.9" y="562.1" width="2" height="48.7" fill="#f23645"/>
<rect x="3106.9" y="580.0" width="8" height="26.9" fill="#f23645"/>
<rect x="3118.9" y="576.0" width="2" height="10.3" fill="#089981"/>
<rect x="3118.9" y="606.6" width="2" height="31.2" fill="#089981"/>
<rect x="3115.9" y="586.3" width="8" height="20.3" fill="#089981"/>
<rect x="3117.9" y="588.3" width="4" height="16.3" fill="#2962ff"/>
<rect x="3127.9" y="576.0" width="2" height="27.8" fill="#f23645"/>
<rect x="3124.9" y="586.2" width="8" height="10.4" fill="#f23645"/>
<rect x="3136.9" y="546.0" width="2" height="17.4" fill="#089981"/>
<rect x="3136.9" y="596.6" width="2" height="0.0" fill="#089981"/>
<rect x="3133.9" y="563.3" width="8" height="33.3" fill="#089981"/>
<rect x="3135.9" y="565.3" width="4" height="29.3" fill="#2962ff"/>
<rect x="3145.9" y="556.2" width="2" height="23.5" fill="#f23645"/>
<rect x="3142.9" y="563.1" width="8" height="12.7" fill="#f23645"/>
<rect x="3155.0" y="477.0" width="2" height="26.3" fill="#089981"/>
<rect x="3155.0" y="575.9" width="2" height="6.9" fill="#089981"/>
<rect x="3152.0" y="503.3" width="8" height="72.6" fill="#089981"/>
<rect x="3154.0" y="505.3" width="4" height="68.6" fill="#2962ff"/>
<rect x="3164.0" y="483.1" width="2" height="16.8" fill="#089981"/>
<rect x="3164.0" y="504.0" width="2" height="20.8" fill="#089981"/>
<rect x="3161.0" y="500.0" width="8" height="4.0" fill="#089981"/>
<rect x="3173.0" y="499.1" width="2" height="22.6" fill="#f23645"/>
<rect x="3170.0" y="502.2" width="8" height="13.5" fill="#f23645"/>
</g>
<line x1="20" y1="515.1" x2="3364" y2="515.1" stroke="#ee1024" stroke-width="2" stroke-dasharray="2,4"/>
<text x="3386.4" y="173.9" font-size="33" fill="#131722" textLength="127.1" lengthAdjust="spacingAndGlyphs">1.00000</text>
<text x="3386.4" y="256.8" font-size="33" fill="#131722" textLength="127.1" lengthAdjust="spacingAndGlyphs">0.70000</text>
<text x="3386.4" y="360.0" font-size="33" fill="#131722" textLength="127.1" lengthAdjust="spacingAndGlyphs">0.45000</text>
<text x="3386.4" y="453.8" font-size="33" fill="#131722" textLength="127.1" lengthAdjust="spacingAndGlyphs">0.30000</text>
<text x="3386.4" y="548.4" font-size="33" fill="#131722" textLength="127.1" lengthAdjust="spacingAndGlyphs">0.20000</text>
<text x="3386.4" y="632.1" font-size="33" fill="#131722" textLength="127.1" lengthAdjust="spacingAndGlyphs">0.14000</text>
<text x="3386.4" y="734.9" font-size="33" fill="#131722" textLength="127.1" lengthAdjust="spacingAndGlyphs">0.09000</text>
<text x="3386.4" y="828.9" font-size="33" fill="#131722" textLength="127.1" lengthAdjust="spacingAndGlyphs">0.06000</text>
<text x="3386.4" y="922.3" font-size="33" fill="#131722" textLength="127.1" lengthAdjust="spacingAndGlyphs">0.04000</text>
<text x="3386.4" y="1006.8" font-size="33" fill="#131722" textLength="127.1" lengthAdjust="spacingAndGlyphs">0.02800</text>
<text x="3386.4" y="1108.3" font-size="33" fill="#131722" textLength="127.1" lengthAdjust="spacingAndGlyphs">0.01800</text>
<text x="3386.4" y="1203.6" font-size="33" fill="#131722" textLength="127.1" lengthAdjust="spacingAndGlyphs">0.01200</text>
<text x="3386.4" y="1297.1" font-size="33" fill="#131722" textLength="127.1" lengthAdjust="spacingAndGlyphs">0.00800</text>
<text x="3386.4" y="1384.9" font-size="33" fill="#131722" textLength="127.1" lengthAdjust="spacingAndGlyphs">0.00550</text>
<text x="3386.4" y="1490.5" font-size="33" fill="#131722" textLength="127.1" lengthAdjust="spacingAndGlyphs">0.00350</text>
<text x="3386.4" y="1588.6" font-size="33" fill="#131722" textLength="127.1" lengthAdjust="spacingAndGlyphs">0.00230</text>
<text x="3386.4" y="1672.2" font-size="33" fill="#131722" textLength="127.1" lengthAdjust="spacingAndGlyphs">0.00160</text>
<text x="3386.4" y="1757.9" font-size="33" fill="#131722" textLength="127.1" lengthAdjust="spacingAndGlyphs">0.00110</text>
<text x="3386.4" y="1842.7" font-size="33" fill="#131722" textLength="127.1" lengthAdjust="spacingAndGlyphs">0.00076</text>
<path d="M3368,311.1 H3524.5 a3.5,3.5 0 0 1 3.5,3.5 V353.4 a3.5,3.5 0 0 1 -3.5,3.5 H3368 Z" fill="#f23645"/>
<text x="3388.6" y="345.3" font-size="33" fill="#fff" textLength="125.4" lengthAdjust="spacingAndGlyphs">0.47936</text>
<rect x="3374.2" y="61.9" width="171.2" height="52.3" rx="9" fill="#fff" stroke="#f0f1f3" stroke-width="1.5"/>
<text x="139.4" y="1892" font-size="35" font-weight="bold" fill="#131722" textLength="82.3" lengthAdjust="spacingAndGlyphs">2019</text>
<text x="385.8" y="1892" font-size="33" fill="#131722" textLength="41.3" lengthAdjust="spacingAndGlyphs">Jul</text>
<text x="608.3" y="1892" font-size="35" font-weight="bold" fill="#131722" textLength="82.3" lengthAdjust="spacingAndGlyphs">2020</text>
<text x="863.5" y="1892" font-size="33" fill="#131722" textLength="41.3" lengthAdjust="spacingAndGlyphs">Jul</text>
<text x="1077.1" y="1892" font-size="35" font-weight="bold" fill="#131722" textLength="82.3" lengthAdjust="spacingAndGlyphs">2021</text>
<text x="1332.2" y="1892" font-size="33" fill="#131722" textLength="41.3" lengthAdjust="spacingAndGlyphs">Jul</text>
<text x="1545.9" y="1892" font-size="35" font-weight="bold" fill="#131722" textLength="82.3" lengthAdjust="spacingAndGlyphs">2022</text>
<text x="1801.6" y="1892" font-size="33" fill="#131722" textLength="41.3" lengthAdjust="spacingAndGlyphs">Jul</text>
<text x="2015.0" y="1892" font-size="35" font-weight="bold" fill="#131722" textLength="82.3" lengthAdjust="spacingAndGlyphs">2023</text>
<text x="2270.7" y="1892" font-size="33" fill="#131722" textLength="41.3" lengthAdjust="spacingAndGlyphs">Jul</text>
<text x="2484.1" y="1892" font-size="35" font-weight="bold" fill="#131722" textLength="82.3" lengthAdjust="spacingAndGlyphs">2024</text>
<text x="2739.9" y="1892" font-size="33" fill="#131722" textLength="41.3" lengthAdjust="spacingAndGlyphs">Jul</text>
<text x="2962.0" y="1892" font-size="35" font-weight="bold" fill="#131722" textLength="82.3" lengthAdjust="spacingAndGlyphs">2025</text>
<text x="3217.5" y="1892" font-size="33" fill="#131722" textLength="41.3" lengthAdjust="spacingAndGlyphs">Jul</text>
<text x="19.55" y="39.8" font-size="24.5" fill="#0c0e14" textLength="97.95" lengthAdjust="spacingAndGlyphs">crispus9</text>
<text x="124.09" y="39.8" font-size="24.5" fill="#0c0e14" textLength="110.35" lengthAdjust="spacingAndGlyphs">published</text>
<text x="241.36" y="39.8" font-size="24.5" fill="#0c0e14" textLength="28.51" lengthAdjust="spacingAndGlyphs">on</text>
<text x="277.02" y="39.8" font-size="24.5" fill="#0c0e14" textLength="199.3" lengthAdjust="spacingAndGlyphs">TradingView.com,</text>
<text x="481.67" y="39.8" font-size="24.5" fill="#0c0e14" textLength="47.14" lengthAdjust="spacingAndGlyphs">May</text>
<text x="536.37" y="39.8" font-size="24.5" fill="#0c0e14" textLength="36.76" lengthAdjust="spacingAndGlyphs">20,</text>
<text x="579.1" y="39.8" font-size="24.5" fill="#0c0e14" textLength="59.21" lengthAdjust="spacingAndGlyphs">2025</text>
<text x="643.3" y="39.8" font-size="24.5" fill="#0c0e14" textLength="65.79" lengthAdjust="spacingAndGlyphs">14:03</text>
<text x="714.63" y="39.8" font-size="24.5" fill="#0c0e14" textLength="80.76" lengthAdjust="spacingAndGlyphs">UTC+3</text>
<text x="34.63" y="94.1" font-size="24.7" fill="#131722" textLength="110.01" lengthAdjust="spacingAndGlyphs">Dogecoin</text>
<text x="153.7" y="94.1" font-size="24.7" fill="#131722" text-anchor="middle">·</text>
<text x="162.82" y="94.1" font-size="24.7" fill="#131722" textLength="34.63" lengthAdjust="spacingAndGlyphs">1W</text>
<text x="209.0" y="94.1" font-size="24.7" fill="#131722" text-anchor="middle">·</text>
<text x="219.02" y="94.1" font-size="24.7" fill="#131722" textLength="96.55" lengthAdjust="spacingAndGlyphs">CRYPTO</text>
<text x="328.7" y="94.1" font-size="24.7" fill="#131722" textLength="18.55" lengthAdjust="spacingAndGlyphs">O</text>
<text x="347.25" y="94.1" font-size="24.7" fill="#f23645" textLength="92.23" lengthAdjust="spacingAndGlyphs">0.23318</text>
<text x="451.31" y="94.1" font-size="24.7" fill="#131722" textLength="20.46" lengthAdjust="spacingAndGlyphs">H</text>
<text x="470.41" y="94.1" font-size="24.7" fill="#f23645" textLength="96.28" lengthAdjust="spacingAndGlyphs">0.23583</text>
<text x="578.78" y="94.1" font-size="24.7" fill="#131722" textLength="14.21" lengthAdjust="spacingAndGlyphs">L</text>
<text x="593.58" y="94.1" font-size="24.7" fill="#f23645" textLength="87.7" lengthAdjust="spacingAndGlyphs">0.21413</text>
<text x="693.54" y="94.1" font-size="24.7" fill="#131722" textLength="19.3" lengthAdjust="spacingAndGlyphs">C</text>
<text x="711.73" y="94.1" font-size="24.7" fill="#f23645" textLength="95.07" lengthAdjust="spacingAndGlyphs">0.22005</text>
<text x="34.74" y="128.1" font-size="24.7" fill="#131722" textLength="51.51" lengthAdjust="spacingAndGlyphs">EMA</text>
<text x="94.93" y="128.1" font-size="24.7" fill="#131722" textLength="55.79" lengthAdjust="spacingAndGlyphs">(100,</text>
<text x="157.56" y="128.1" font-size="24.7" fill="#131722" textLength="68.95" lengthAdjust="spacingAndGlyphs">close)</text>
<text x="240.15" y="128.1" font-size="24.7" fill="#e91e63" textLength="90.49" lengthAdjust="spacingAndGlyphs">0.17563</text>
<text x="66.47" y="1962.7" font-size="26" fill="#131313" textLength="148.4" lengthAdjust="spacingAndGlyphs">TradingView</text>
<text x="3391.43" y="95.9" font-size="24.5" fill="#0c0e14" textLength="50.89" lengthAdjust="spacingAndGlyphs">USD</text>
<g fill="#131313"><path d="M20,1942.3 H35.8 V1961.3 H27.8 V1949.7 H20 Z"/><circle cx="42.2" cy="1946.4" r="4.2"/><path d="M49.7,1942.3 H59.3 L51.5,1961.3 H42.2 Z"/></g>
</svg>
</body></html>
